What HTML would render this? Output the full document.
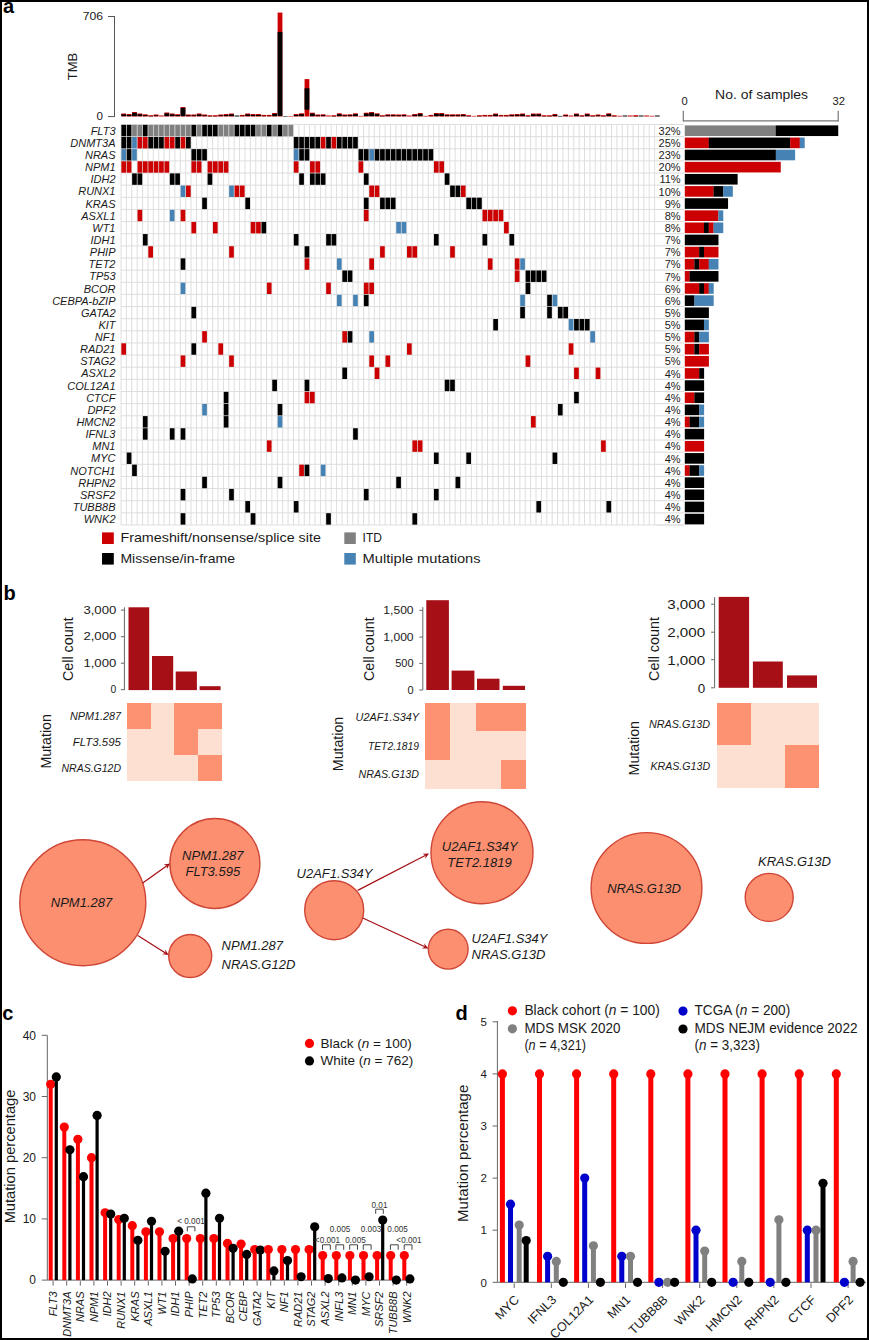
<!DOCTYPE html><html><head><meta charset="utf-8"><style>html,body{margin:0;padding:0;background:#fff;}svg{display:block;}</style></head><body><svg width="869" height="1340" viewBox="0 0 869 1340" font-family='"Liberation Sans", sans-serif'>
<rect x="0" y="0" width="869" height="1340" fill="#ffffff"/>
<text x="3" y="12.9" font-size="20" text-anchor="start" fill="#000" font-weight="bold">a</text>
<line x1="114.5" y1="16.5" x2="114.5" y2="116.6" stroke="#555555" stroke-width="1"/>
<line x1="108" y1="16.5" x2="115" y2="16.5" stroke="#555555" stroke-width="1"/>
<line x1="108" y1="116.6" x2="115" y2="116.6" stroke="#555555" stroke-width="1"/>
<text x="103" y="20.4" font-size="11.6" text-anchor="end" fill="#1a1a1a" textLength="20.3" lengthAdjust="spacingAndGlyphs">706</text>
<text x="103" y="120.2" font-size="11.6" text-anchor="end" fill="#1a1a1a">0</text>
<text transform="translate(77.4,66.5) rotate(-90)" font-size="13" text-anchor="middle" fill="#1a1a1a">TMB</text>
<rect x="121.3" y="113.5" width="4.79" height="3" fill="#cc0000"/>
<rect x="121.3" y="114.4" width="4.79" height="1.7" fill="#000000"/>
<rect x="126.69" y="114" width="4.79" height="2.5" fill="#cc0000"/>
<rect x="126.69" y="114.9" width="4.79" height="1.2" fill="#000000"/>
<rect x="132.08" y="112" width="4.79" height="4.5" fill="#cc0000"/>
<rect x="132.08" y="112.9" width="4.79" height="3.2" fill="#000000"/>
<rect x="137.47" y="113.5" width="4.79" height="3" fill="#cc0000"/>
<rect x="137.47" y="114.4" width="4.79" height="1.7" fill="#000000"/>
<rect x="142.86" y="114.3" width="4.79" height="2.2" fill="#cc0000"/>
<rect x="142.86" y="115.2" width="4.79" height="0.9" fill="#000000"/>
<rect x="148.25" y="115.2" width="4.79" height="1.3" fill="#cc0000"/>
<rect x="148.25" y="116.1" width="4.79" height="0.3" fill="#000000"/>
<rect x="153.64" y="114.5" width="4.79" height="2" fill="#cc0000"/>
<rect x="153.64" y="115.4" width="4.79" height="0.7" fill="#000000"/>
<rect x="159.03" y="115.5" width="4.79" height="1" fill="#cc0000"/>
<rect x="164.42" y="112.5" width="4.79" height="4" fill="#cc0000"/>
<rect x="164.42" y="113.4" width="4.79" height="2.7" fill="#000000"/>
<rect x="169.81" y="113.5" width="4.79" height="3" fill="#cc0000"/>
<rect x="169.81" y="114.4" width="4.79" height="1.7" fill="#000000"/>
<rect x="175.2" y="114.2" width="4.79" height="2.3" fill="#cc0000"/>
<rect x="175.2" y="115.1" width="4.79" height="1" fill="#000000"/>
<rect x="180.59" y="107" width="4.79" height="9.5" fill="#cc0000"/>
<rect x="180.59" y="107.9" width="4.79" height="8.2" fill="#000000"/>
<rect x="185.98" y="114.5" width="4.79" height="2" fill="#cc0000"/>
<rect x="185.98" y="115.4" width="4.79" height="0.7" fill="#000000"/>
<rect x="191.37" y="114.5" width="4.79" height="2" fill="#cc0000"/>
<rect x="191.37" y="115.4" width="4.79" height="0.7" fill="#000000"/>
<rect x="196.76" y="113.5" width="4.79" height="3" fill="#cc0000"/>
<rect x="196.76" y="114.4" width="4.79" height="1.7" fill="#000000"/>
<rect x="202.15" y="114.5" width="4.79" height="2" fill="#cc0000"/>
<rect x="202.15" y="115.4" width="4.79" height="0.7" fill="#000000"/>
<rect x="207.54" y="115.2" width="4.79" height="1.3" fill="#cc0000"/>
<rect x="207.54" y="116.1" width="4.79" height="0.3" fill="#000000"/>
<rect x="212.93" y="115.2" width="4.79" height="1.3" fill="#cc0000"/>
<rect x="212.93" y="116.1" width="4.79" height="0.3" fill="#000000"/>
<rect x="218.32" y="114.5" width="4.79" height="2" fill="#cc0000"/>
<rect x="218.32" y="115.4" width="4.79" height="0.7" fill="#000000"/>
<rect x="223.71" y="114" width="4.79" height="2.5" fill="#cc0000"/>
<rect x="223.71" y="114.9" width="4.79" height="1.2" fill="#000000"/>
<rect x="229.1" y="113.5" width="4.79" height="3" fill="#cc0000"/>
<rect x="229.1" y="114.4" width="4.79" height="1.7" fill="#000000"/>
<rect x="234.49" y="115.5" width="4.79" height="1" fill="#000000"/>
<rect x="239.88" y="114.9" width="4.79" height="1.6" fill="#cc0000"/>
<rect x="239.88" y="115.8" width="4.79" height="0.3" fill="#000000"/>
<rect x="245.27" y="113.5" width="4.79" height="3" fill="#cc0000"/>
<rect x="245.27" y="114.4" width="4.79" height="1.7" fill="#000000"/>
<rect x="250.66" y="114" width="4.79" height="2.5" fill="#cc0000"/>
<rect x="250.66" y="114.9" width="4.79" height="1.2" fill="#000000"/>
<rect x="256.05" y="114" width="4.79" height="2.5" fill="#cc0000"/>
<rect x="256.05" y="114.9" width="4.79" height="1.2" fill="#000000"/>
<rect x="261.44" y="114.9" width="4.79" height="1.6" fill="#cc0000"/>
<rect x="261.44" y="115.8" width="4.79" height="0.3" fill="#000000"/>
<rect x="266.83" y="114.9" width="4.79" height="1.6" fill="#cc0000"/>
<rect x="266.83" y="115.8" width="4.79" height="0.3" fill="#000000"/>
<rect x="272.22" y="113" width="4.79" height="3.5" fill="#cc0000"/>
<rect x="272.22" y="113.9" width="4.79" height="2.2" fill="#000000"/>
<rect x="277.61" y="12.6" width="4.79" height="103.9" fill="#cc0000"/>
<rect x="277.61" y="31.9" width="4.79" height="84.1" fill="#000000"/>
<rect x="283" y="116" width="4.79" height="0.5" fill="#000000"/>
<rect x="288.39" y="116" width="4.79" height="0.5" fill="#cc0000"/>
<rect x="293.78" y="114" width="4.79" height="2.5" fill="#cc0000"/>
<rect x="293.78" y="114.9" width="4.79" height="1.2" fill="#000000"/>
<rect x="299.17" y="113.3" width="4.79" height="3.2" fill="#cc0000"/>
<rect x="299.17" y="114.2" width="4.79" height="1.9" fill="#000000"/>
<rect x="304.56" y="79.1" width="4.79" height="37.4" fill="#cc0000"/>
<rect x="304.56" y="88.3" width="4.79" height="21.4" fill="#000000"/>
<rect x="309.95" y="112.7" width="4.79" height="3.8" fill="#cc0000"/>
<rect x="309.95" y="113.6" width="4.79" height="2.5" fill="#000000"/>
<rect x="315.34" y="114.5" width="4.79" height="2" fill="#cc0000"/>
<rect x="315.34" y="115.4" width="4.79" height="0.7" fill="#000000"/>
<rect x="320.73" y="114.3" width="4.79" height="2.2" fill="#cc0000"/>
<rect x="320.73" y="115.2" width="4.79" height="0.9" fill="#000000"/>
<rect x="326.12" y="115.5" width="4.79" height="1" fill="#cc0000"/>
<rect x="331.51" y="115.2" width="4.79" height="1.3" fill="#cc0000"/>
<rect x="331.51" y="116.1" width="4.79" height="0.3" fill="#000000"/>
<rect x="336.9" y="113.3" width="4.79" height="3.2" fill="#cc0000"/>
<rect x="336.9" y="114.2" width="4.79" height="1.9" fill="#000000"/>
<rect x="342.29" y="114.5" width="4.79" height="2" fill="#cc0000"/>
<rect x="342.29" y="115.4" width="4.79" height="0.7" fill="#000000"/>
<rect x="347.68" y="114.3" width="4.79" height="2.2" fill="#cc0000"/>
<rect x="347.68" y="115.2" width="4.79" height="0.9" fill="#000000"/>
<rect x="353.07" y="113.3" width="4.79" height="3.2" fill="#cc0000"/>
<rect x="353.07" y="114.2" width="4.79" height="1.9" fill="#000000"/>
<rect x="358.46" y="115.9" width="4.79" height="0.6" fill="#cc0000"/>
<rect x="363.85" y="112.7" width="4.79" height="3.8" fill="#cc0000"/>
<rect x="363.85" y="113.6" width="4.79" height="2.5" fill="#000000"/>
<rect x="369.24" y="112" width="4.79" height="4.5" fill="#cc0000"/>
<rect x="369.24" y="112.9" width="4.79" height="3.2" fill="#000000"/>
<rect x="374.63" y="113.3" width="4.79" height="3.2" fill="#cc0000"/>
<rect x="374.63" y="114.2" width="4.79" height="1.9" fill="#000000"/>
<rect x="380.02" y="115.2" width="4.79" height="1.3" fill="#cc0000"/>
<rect x="380.02" y="116.1" width="4.79" height="0.3" fill="#000000"/>
<rect x="385.41" y="114.3" width="4.79" height="2.2" fill="#cc0000"/>
<rect x="385.41" y="115.2" width="4.79" height="0.9" fill="#000000"/>
<rect x="390.8" y="114.3" width="4.79" height="2.2" fill="#cc0000"/>
<rect x="390.8" y="115.2" width="4.79" height="0.9" fill="#000000"/>
<rect x="396.19" y="114.5" width="4.79" height="2" fill="#cc0000"/>
<rect x="396.19" y="115.4" width="4.79" height="0.7" fill="#000000"/>
<rect x="401.58" y="114.3" width="4.79" height="2.2" fill="#cc0000"/>
<rect x="401.58" y="115.2" width="4.79" height="0.9" fill="#000000"/>
<rect x="406.97" y="115.5" width="4.79" height="1" fill="#cc0000"/>
<rect x="412.36" y="114" width="4.79" height="2.5" fill="#cc0000"/>
<rect x="412.36" y="114.9" width="4.79" height="1.2" fill="#000000"/>
<rect x="417.75" y="113" width="4.79" height="3.5" fill="#cc0000"/>
<rect x="417.75" y="113.9" width="4.79" height="2.2" fill="#000000"/>
<rect x="423.14" y="115.9" width="4.79" height="0.6" fill="#cc0000"/>
<rect x="428.53" y="114.9" width="4.79" height="1.6" fill="#cc0000"/>
<rect x="428.53" y="115.8" width="4.79" height="0.3" fill="#000000"/>
<rect x="433.92" y="113" width="4.79" height="3.5" fill="#cc0000"/>
<rect x="433.92" y="113.9" width="4.79" height="2.2" fill="#000000"/>
<rect x="439.31" y="113" width="4.79" height="3.5" fill="#cc0000"/>
<rect x="439.31" y="113.9" width="4.79" height="2.2" fill="#000000"/>
<rect x="444.7" y="114.3" width="4.79" height="2.2" fill="#cc0000"/>
<rect x="444.7" y="115.2" width="4.79" height="0.9" fill="#000000"/>
<rect x="450.09" y="114.3" width="4.79" height="2.2" fill="#cc0000"/>
<rect x="450.09" y="115.2" width="4.79" height="0.9" fill="#000000"/>
<rect x="455.48" y="114.3" width="4.79" height="2.2" fill="#cc0000"/>
<rect x="455.48" y="115.2" width="4.79" height="0.9" fill="#000000"/>
<rect x="460.87" y="114" width="4.79" height="2.5" fill="#cc0000"/>
<rect x="460.87" y="114.9" width="4.79" height="1.2" fill="#000000"/>
<rect x="466.26" y="115.2" width="4.79" height="1.3" fill="#cc0000"/>
<rect x="466.26" y="116.1" width="4.79" height="0.3" fill="#000000"/>
<rect x="471.65" y="115.9" width="4.79" height="0.6" fill="#cc0000"/>
<rect x="477.04" y="115.2" width="4.79" height="1.3" fill="#cc0000"/>
<rect x="477.04" y="116.1" width="4.79" height="0.3" fill="#000000"/>
<rect x="482.43" y="114.9" width="4.79" height="1.6" fill="#cc0000"/>
<rect x="482.43" y="115.8" width="4.79" height="0.3" fill="#000000"/>
<rect x="487.82" y="114.9" width="4.79" height="1.6" fill="#cc0000"/>
<rect x="487.82" y="115.8" width="4.79" height="0.3" fill="#000000"/>
<rect x="493.21" y="113.5" width="4.79" height="3" fill="#cc0000"/>
<rect x="493.21" y="114.4" width="4.79" height="1.7" fill="#000000"/>
<rect x="498.6" y="114.9" width="4.79" height="1.6" fill="#cc0000"/>
<rect x="498.6" y="115.8" width="4.79" height="0.3" fill="#000000"/>
<rect x="503.99" y="114.9" width="4.79" height="1.6" fill="#cc0000"/>
<rect x="503.99" y="115.8" width="4.79" height="0.3" fill="#000000"/>
<rect x="509.38" y="114.3" width="4.79" height="2.2" fill="#cc0000"/>
<rect x="509.38" y="115.2" width="4.79" height="0.9" fill="#000000"/>
<rect x="514.77" y="114" width="4.79" height="2.5" fill="#cc0000"/>
<rect x="514.77" y="114.9" width="4.79" height="1.2" fill="#000000"/>
<rect x="520.16" y="113.5" width="4.79" height="3" fill="#cc0000"/>
<rect x="520.16" y="114.4" width="4.79" height="1.7" fill="#000000"/>
<rect x="525.55" y="115.2" width="4.79" height="1.3" fill="#cc0000"/>
<rect x="525.55" y="116.1" width="4.79" height="0.3" fill="#000000"/>
<rect x="530.94" y="113.5" width="4.79" height="3" fill="#cc0000"/>
<rect x="530.94" y="114.4" width="4.79" height="1.7" fill="#000000"/>
<rect x="536.33" y="113.5" width="4.79" height="3" fill="#cc0000"/>
<rect x="536.33" y="114.4" width="4.79" height="1.7" fill="#000000"/>
<rect x="541.72" y="115.2" width="4.79" height="1.3" fill="#cc0000"/>
<rect x="541.72" y="116.1" width="4.79" height="0.3" fill="#000000"/>
<rect x="547.11" y="115.2" width="4.79" height="1.3" fill="#cc0000"/>
<rect x="547.11" y="116.1" width="4.79" height="0.3" fill="#000000"/>
<rect x="552.5" y="114" width="4.79" height="2.5" fill="#cc0000"/>
<rect x="552.5" y="114.9" width="4.79" height="1.2" fill="#000000"/>
<rect x="557.89" y="115.9" width="4.79" height="0.6" fill="#000000"/>
<rect x="563.28" y="114.5" width="4.79" height="2" fill="#cc0000"/>
<rect x="563.28" y="115.4" width="4.79" height="0.7" fill="#000000"/>
<rect x="568.67" y="115.5" width="4.79" height="1" fill="#cc0000"/>
<rect x="574.06" y="113.5" width="4.79" height="3" fill="#cc0000"/>
<rect x="574.06" y="114.4" width="4.79" height="1.7" fill="#000000"/>
<rect x="579.45" y="115.2" width="4.79" height="1.3" fill="#cc0000"/>
<rect x="579.45" y="116.1" width="4.79" height="0.3" fill="#000000"/>
<rect x="584.84" y="113.5" width="4.79" height="3" fill="#cc0000"/>
<rect x="584.84" y="114.4" width="4.79" height="1.7" fill="#000000"/>
<rect x="590.23" y="115.2" width="4.79" height="1.3" fill="#cc0000"/>
<rect x="590.23" y="116.1" width="4.79" height="0.3" fill="#000000"/>
<rect x="595.62" y="114.5" width="4.79" height="2" fill="#cc0000"/>
<rect x="595.62" y="115.4" width="4.79" height="0.7" fill="#000000"/>
<rect x="601.01" y="115.2" width="4.79" height="1.3" fill="#cc0000"/>
<rect x="601.01" y="116.1" width="4.79" height="0.3" fill="#000000"/>
<rect x="606.4" y="113.3" width="4.79" height="3.2" fill="#cc0000"/>
<rect x="606.4" y="114.2" width="4.79" height="1.9" fill="#000000"/>
<rect x="611.79" y="115.2" width="4.79" height="1.3" fill="#cc0000"/>
<rect x="611.79" y="116.1" width="4.79" height="0.3" fill="#000000"/>
<rect x="617.18" y="115.8" width="4.79" height="0.7" fill="#cc0000"/>
<rect x="622.57" y="115.5" width="4.79" height="1" fill="#000000"/>
<rect x="627.96" y="115.5" width="4.79" height="1" fill="#cc0000"/>
<rect x="633.35" y="115.2" width="4.79" height="1.3" fill="#cc0000"/>
<rect x="633.35" y="116.1" width="4.79" height="0.3" fill="#000000"/>
<rect x="638.74" y="115.5" width="4.79" height="1" fill="#000000"/>
<rect x="644.13" y="115.5" width="4.79" height="1" fill="#cc0000"/>
<rect x="649.52" y="115.8" width="4.79" height="0.7" fill="#cc0000"/>
<rect x="654.91" y="115.5" width="4.79" height="1" fill="#000000"/>
<g fill="none" stroke="#dadada" stroke-width="0.9">
<line x1="121" y1="124.5" x2="121" y2="524.99"/>
<line x1="126.39" y1="124.5" x2="126.39" y2="524.99"/>
<line x1="131.78" y1="124.5" x2="131.78" y2="524.99"/>
<line x1="137.17" y1="124.5" x2="137.17" y2="524.99"/>
<line x1="142.56" y1="124.5" x2="142.56" y2="524.99"/>
<line x1="147.95" y1="124.5" x2="147.95" y2="524.99"/>
<line x1="153.34" y1="124.5" x2="153.34" y2="524.99"/>
<line x1="158.73" y1="124.5" x2="158.73" y2="524.99"/>
<line x1="164.12" y1="124.5" x2="164.12" y2="524.99"/>
<line x1="169.51" y1="124.5" x2="169.51" y2="524.99"/>
<line x1="174.9" y1="124.5" x2="174.9" y2="524.99"/>
<line x1="180.29" y1="124.5" x2="180.29" y2="524.99"/>
<line x1="185.68" y1="124.5" x2="185.68" y2="524.99"/>
<line x1="191.07" y1="124.5" x2="191.07" y2="524.99"/>
<line x1="196.46" y1="124.5" x2="196.46" y2="524.99"/>
<line x1="201.85" y1="124.5" x2="201.85" y2="524.99"/>
<line x1="207.24" y1="124.5" x2="207.24" y2="524.99"/>
<line x1="212.63" y1="124.5" x2="212.63" y2="524.99"/>
<line x1="218.02" y1="124.5" x2="218.02" y2="524.99"/>
<line x1="223.41" y1="124.5" x2="223.41" y2="524.99"/>
<line x1="228.8" y1="124.5" x2="228.8" y2="524.99"/>
<line x1="234.19" y1="124.5" x2="234.19" y2="524.99"/>
<line x1="239.58" y1="124.5" x2="239.58" y2="524.99"/>
<line x1="244.97" y1="124.5" x2="244.97" y2="524.99"/>
<line x1="250.36" y1="124.5" x2="250.36" y2="524.99"/>
<line x1="255.75" y1="124.5" x2="255.75" y2="524.99"/>
<line x1="261.14" y1="124.5" x2="261.14" y2="524.99"/>
<line x1="266.53" y1="124.5" x2="266.53" y2="524.99"/>
<line x1="271.92" y1="124.5" x2="271.92" y2="524.99"/>
<line x1="277.31" y1="124.5" x2="277.31" y2="524.99"/>
<line x1="282.7" y1="124.5" x2="282.7" y2="524.99"/>
<line x1="288.09" y1="124.5" x2="288.09" y2="524.99"/>
<line x1="293.48" y1="124.5" x2="293.48" y2="524.99"/>
<line x1="298.87" y1="124.5" x2="298.87" y2="524.99"/>
<line x1="304.26" y1="124.5" x2="304.26" y2="524.99"/>
<line x1="309.65" y1="124.5" x2="309.65" y2="524.99"/>
<line x1="315.04" y1="124.5" x2="315.04" y2="524.99"/>
<line x1="320.43" y1="124.5" x2="320.43" y2="524.99"/>
<line x1="325.82" y1="124.5" x2="325.82" y2="524.99"/>
<line x1="331.21" y1="124.5" x2="331.21" y2="524.99"/>
<line x1="336.6" y1="124.5" x2="336.6" y2="524.99"/>
<line x1="341.99" y1="124.5" x2="341.99" y2="524.99"/>
<line x1="347.38" y1="124.5" x2="347.38" y2="524.99"/>
<line x1="352.77" y1="124.5" x2="352.77" y2="524.99"/>
<line x1="358.16" y1="124.5" x2="358.16" y2="524.99"/>
<line x1="363.55" y1="124.5" x2="363.55" y2="524.99"/>
<line x1="368.94" y1="124.5" x2="368.94" y2="524.99"/>
<line x1="374.33" y1="124.5" x2="374.33" y2="524.99"/>
<line x1="379.72" y1="124.5" x2="379.72" y2="524.99"/>
<line x1="385.11" y1="124.5" x2="385.11" y2="524.99"/>
<line x1="390.5" y1="124.5" x2="390.5" y2="524.99"/>
<line x1="395.89" y1="124.5" x2="395.89" y2="524.99"/>
<line x1="401.28" y1="124.5" x2="401.28" y2="524.99"/>
<line x1="406.67" y1="124.5" x2="406.67" y2="524.99"/>
<line x1="412.06" y1="124.5" x2="412.06" y2="524.99"/>
<line x1="417.45" y1="124.5" x2="417.45" y2="524.99"/>
<line x1="422.84" y1="124.5" x2="422.84" y2="524.99"/>
<line x1="428.23" y1="124.5" x2="428.23" y2="524.99"/>
<line x1="433.62" y1="124.5" x2="433.62" y2="524.99"/>
<line x1="439.01" y1="124.5" x2="439.01" y2="524.99"/>
<line x1="444.4" y1="124.5" x2="444.4" y2="524.99"/>
<line x1="449.79" y1="124.5" x2="449.79" y2="524.99"/>
<line x1="455.18" y1="124.5" x2="455.18" y2="524.99"/>
<line x1="460.57" y1="124.5" x2="460.57" y2="524.99"/>
<line x1="465.96" y1="124.5" x2="465.96" y2="524.99"/>
<line x1="471.35" y1="124.5" x2="471.35" y2="524.99"/>
<line x1="476.74" y1="124.5" x2="476.74" y2="524.99"/>
<line x1="482.13" y1="124.5" x2="482.13" y2="524.99"/>
<line x1="487.52" y1="124.5" x2="487.52" y2="524.99"/>
<line x1="492.91" y1="124.5" x2="492.91" y2="524.99"/>
<line x1="498.3" y1="124.5" x2="498.3" y2="524.99"/>
<line x1="503.69" y1="124.5" x2="503.69" y2="524.99"/>
<line x1="509.08" y1="124.5" x2="509.08" y2="524.99"/>
<line x1="514.47" y1="124.5" x2="514.47" y2="524.99"/>
<line x1="519.86" y1="124.5" x2="519.86" y2="524.99"/>
<line x1="525.25" y1="124.5" x2="525.25" y2="524.99"/>
<line x1="530.64" y1="124.5" x2="530.64" y2="524.99"/>
<line x1="536.03" y1="124.5" x2="536.03" y2="524.99"/>
<line x1="541.42" y1="124.5" x2="541.42" y2="524.99"/>
<line x1="546.81" y1="124.5" x2="546.81" y2="524.99"/>
<line x1="552.2" y1="124.5" x2="552.2" y2="524.99"/>
<line x1="557.59" y1="124.5" x2="557.59" y2="524.99"/>
<line x1="562.98" y1="124.5" x2="562.98" y2="524.99"/>
<line x1="568.37" y1="124.5" x2="568.37" y2="524.99"/>
<line x1="573.76" y1="124.5" x2="573.76" y2="524.99"/>
<line x1="579.15" y1="124.5" x2="579.15" y2="524.99"/>
<line x1="584.54" y1="124.5" x2="584.54" y2="524.99"/>
<line x1="589.93" y1="124.5" x2="589.93" y2="524.99"/>
<line x1="595.32" y1="124.5" x2="595.32" y2="524.99"/>
<line x1="600.71" y1="124.5" x2="600.71" y2="524.99"/>
<line x1="606.1" y1="124.5" x2="606.1" y2="524.99"/>
<line x1="611.49" y1="124.5" x2="611.49" y2="524.99"/>
<line x1="616.88" y1="124.5" x2="616.88" y2="524.99"/>
<line x1="622.27" y1="124.5" x2="622.27" y2="524.99"/>
<line x1="627.66" y1="124.5" x2="627.66" y2="524.99"/>
<line x1="633.05" y1="124.5" x2="633.05" y2="524.99"/>
<line x1="638.44" y1="124.5" x2="638.44" y2="524.99"/>
<line x1="643.83" y1="124.5" x2="643.83" y2="524.99"/>
<line x1="649.22" y1="124.5" x2="649.22" y2="524.99"/>
<line x1="654.61" y1="124.5" x2="654.61" y2="524.99"/>
<line x1="660" y1="124.5" x2="660" y2="524.99"/>
<line x1="121" y1="124.5" x2="684" y2="124.5"/>
<line x1="121" y1="136.64" x2="684" y2="136.64"/>
<line x1="121" y1="148.77" x2="684" y2="148.77"/>
<line x1="121" y1="160.91" x2="684" y2="160.91"/>
<line x1="121" y1="173.04" x2="684" y2="173.04"/>
<line x1="121" y1="185.18" x2="684" y2="185.18"/>
<line x1="121" y1="197.32" x2="684" y2="197.32"/>
<line x1="121" y1="209.45" x2="684" y2="209.45"/>
<line x1="121" y1="221.59" x2="684" y2="221.59"/>
<line x1="121" y1="233.72" x2="684" y2="233.72"/>
<line x1="121" y1="245.86" x2="684" y2="245.86"/>
<line x1="121" y1="258" x2="684" y2="258"/>
<line x1="121" y1="270.13" x2="684" y2="270.13"/>
<line x1="121" y1="282.27" x2="684" y2="282.27"/>
<line x1="121" y1="294.4" x2="684" y2="294.4"/>
<line x1="121" y1="306.54" x2="684" y2="306.54"/>
<line x1="121" y1="318.68" x2="684" y2="318.68"/>
<line x1="121" y1="330.81" x2="684" y2="330.81"/>
<line x1="121" y1="342.95" x2="684" y2="342.95"/>
<line x1="121" y1="355.08" x2="684" y2="355.08"/>
<line x1="121" y1="367.22" x2="684" y2="367.22"/>
<line x1="121" y1="379.36" x2="684" y2="379.36"/>
<line x1="121" y1="391.49" x2="684" y2="391.49"/>
<line x1="121" y1="403.63" x2="684" y2="403.63"/>
<line x1="121" y1="415.76" x2="684" y2="415.76"/>
<line x1="121" y1="427.9" x2="684" y2="427.9"/>
<line x1="121" y1="440.04" x2="684" y2="440.04"/>
<line x1="121" y1="452.17" x2="684" y2="452.17"/>
<line x1="121" y1="464.31" x2="684" y2="464.31"/>
<line x1="121" y1="476.44" x2="684" y2="476.44"/>
<line x1="121" y1="488.58" x2="684" y2="488.58"/>
<line x1="121" y1="500.72" x2="684" y2="500.72"/>
<line x1="121" y1="512.85" x2="684" y2="512.85"/>
<line x1="121" y1="524.99" x2="684" y2="524.99"/>
</g>
<rect x="121.35" y="124.85" width="4.69" height="11.44" fill="#000000"/>
<rect x="126.74" y="124.85" width="4.69" height="11.44" fill="#000000"/>
<rect x="132.13" y="124.85" width="4.69" height="11.44" fill="#808080"/>
<rect x="137.52" y="124.85" width="4.69" height="11.44" fill="#808080"/>
<rect x="142.91" y="124.85" width="4.69" height="11.44" fill="#000000"/>
<rect x="148.3" y="124.85" width="4.69" height="11.44" fill="#808080"/>
<rect x="153.69" y="124.85" width="4.69" height="11.44" fill="#808080"/>
<rect x="159.08" y="124.85" width="4.69" height="11.44" fill="#808080"/>
<rect x="164.47" y="124.85" width="4.69" height="11.44" fill="#808080"/>
<rect x="169.86" y="124.85" width="4.69" height="11.44" fill="#808080"/>
<rect x="175.25" y="124.85" width="4.69" height="11.44" fill="#808080"/>
<rect x="180.64" y="124.85" width="4.69" height="11.44" fill="#808080"/>
<rect x="186.03" y="124.85" width="4.69" height="11.44" fill="#808080"/>
<rect x="191.42" y="124.85" width="4.69" height="11.44" fill="#000000"/>
<rect x="196.81" y="124.85" width="4.69" height="11.44" fill="#808080"/>
<rect x="202.2" y="124.85" width="4.69" height="11.44" fill="#000000"/>
<rect x="207.59" y="124.85" width="4.69" height="11.44" fill="#000000"/>
<rect x="212.98" y="124.85" width="4.69" height="11.44" fill="#000000"/>
<rect x="218.37" y="124.85" width="4.69" height="11.44" fill="#808080"/>
<rect x="223.76" y="124.85" width="4.69" height="11.44" fill="#808080"/>
<rect x="229.15" y="124.85" width="4.69" height="11.44" fill="#808080"/>
<rect x="234.54" y="124.85" width="4.69" height="11.44" fill="#000000"/>
<rect x="239.93" y="124.85" width="4.69" height="11.44" fill="#000000"/>
<rect x="245.32" y="124.85" width="4.69" height="11.44" fill="#000000"/>
<rect x="250.71" y="124.85" width="4.69" height="11.44" fill="#000000"/>
<rect x="256.1" y="124.85" width="4.69" height="11.44" fill="#808080"/>
<rect x="261.49" y="124.85" width="4.69" height="11.44" fill="#808080"/>
<rect x="266.88" y="124.85" width="4.69" height="11.44" fill="#000000"/>
<rect x="272.27" y="124.85" width="4.69" height="11.44" fill="#808080"/>
<rect x="277.66" y="124.85" width="4.69" height="11.44" fill="#000000"/>
<rect x="283.05" y="124.85" width="4.69" height="11.44" fill="#808080"/>
<rect x="288.44" y="124.85" width="4.69" height="11.44" fill="#808080"/>
<rect x="121.35" y="136.99" width="4.69" height="11.44" fill="#000000"/>
<rect x="126.74" y="136.99" width="4.69" height="11.44" fill="#000000"/>
<rect x="132.13" y="136.99" width="4.69" height="11.44" fill="#4682b4"/>
<rect x="137.52" y="136.99" width="4.69" height="11.44" fill="#cc0000"/>
<rect x="142.91" y="136.99" width="4.69" height="11.44" fill="#cc0000"/>
<rect x="148.3" y="136.99" width="4.69" height="11.44" fill="#000000"/>
<rect x="153.69" y="136.99" width="4.69" height="11.44" fill="#000000"/>
<rect x="159.08" y="136.99" width="4.69" height="11.44" fill="#000000"/>
<rect x="164.47" y="136.99" width="4.69" height="11.44" fill="#cc0000"/>
<rect x="169.86" y="136.99" width="4.69" height="11.44" fill="#cc0000"/>
<rect x="175.25" y="136.99" width="4.69" height="11.44" fill="#000000"/>
<rect x="180.64" y="136.99" width="4.69" height="11.44" fill="#cc0000"/>
<rect x="186.03" y="136.99" width="4.69" height="11.44" fill="#000000"/>
<rect x="293.83" y="136.99" width="4.69" height="11.44" fill="#000000"/>
<rect x="299.22" y="136.99" width="4.69" height="11.44" fill="#000000"/>
<rect x="304.61" y="136.99" width="4.69" height="11.44" fill="#000000"/>
<rect x="310" y="136.99" width="4.69" height="11.44" fill="#000000"/>
<rect x="315.39" y="136.99" width="4.69" height="11.44" fill="#000000"/>
<rect x="320.78" y="136.99" width="4.69" height="11.44" fill="#cc0000"/>
<rect x="326.17" y="136.99" width="4.69" height="11.44" fill="#000000"/>
<rect x="331.56" y="136.99" width="4.69" height="11.44" fill="#cc0000"/>
<rect x="336.95" y="136.99" width="4.69" height="11.44" fill="#000000"/>
<rect x="342.34" y="136.99" width="4.69" height="11.44" fill="#000000"/>
<rect x="347.73" y="136.99" width="4.69" height="11.44" fill="#000000"/>
<rect x="353.12" y="136.99" width="4.69" height="11.44" fill="#000000"/>
<rect x="121.35" y="149.12" width="4.69" height="11.44" fill="#4682b4"/>
<rect x="126.74" y="149.12" width="4.69" height="11.44" fill="#000000"/>
<rect x="132.13" y="149.12" width="4.69" height="11.44" fill="#4682b4"/>
<rect x="191.42" y="149.12" width="4.69" height="11.44" fill="#000000"/>
<rect x="196.81" y="149.12" width="4.69" height="11.44" fill="#000000"/>
<rect x="202.2" y="149.12" width="4.69" height="11.44" fill="#000000"/>
<rect x="293.83" y="149.12" width="4.69" height="11.44" fill="#4682b4"/>
<rect x="299.22" y="149.12" width="4.69" height="11.44" fill="#000000"/>
<rect x="304.61" y="149.12" width="4.69" height="11.44" fill="#000000"/>
<rect x="358.51" y="149.12" width="4.69" height="11.44" fill="#000000"/>
<rect x="363.9" y="149.12" width="4.69" height="11.44" fill="#000000"/>
<rect x="369.29" y="149.12" width="4.69" height="11.44" fill="#4682b4"/>
<rect x="374.68" y="149.12" width="4.69" height="11.44" fill="#000000"/>
<rect x="380.07" y="149.12" width="4.69" height="11.44" fill="#000000"/>
<rect x="385.46" y="149.12" width="4.69" height="11.44" fill="#000000"/>
<rect x="390.85" y="149.12" width="4.69" height="11.44" fill="#000000"/>
<rect x="396.24" y="149.12" width="4.69" height="11.44" fill="#000000"/>
<rect x="401.63" y="149.12" width="4.69" height="11.44" fill="#000000"/>
<rect x="407.02" y="149.12" width="4.69" height="11.44" fill="#000000"/>
<rect x="412.41" y="149.12" width="4.69" height="11.44" fill="#000000"/>
<rect x="417.8" y="149.12" width="4.69" height="11.44" fill="#000000"/>
<rect x="423.19" y="149.12" width="4.69" height="11.44" fill="#000000"/>
<rect x="428.58" y="149.12" width="4.69" height="11.44" fill="#000000"/>
<rect x="121.35" y="161.26" width="4.69" height="11.44" fill="#cc0000"/>
<rect x="126.74" y="161.26" width="4.69" height="11.44" fill="#cc0000"/>
<rect x="137.52" y="161.26" width="4.69" height="11.44" fill="#cc0000"/>
<rect x="142.91" y="161.26" width="4.69" height="11.44" fill="#cc0000"/>
<rect x="148.3" y="161.26" width="4.69" height="11.44" fill="#cc0000"/>
<rect x="153.69" y="161.26" width="4.69" height="11.44" fill="#cc0000"/>
<rect x="159.08" y="161.26" width="4.69" height="11.44" fill="#cc0000"/>
<rect x="164.47" y="161.26" width="4.69" height="11.44" fill="#cc0000"/>
<rect x="191.42" y="161.26" width="4.69" height="11.44" fill="#cc0000"/>
<rect x="196.81" y="161.26" width="4.69" height="11.44" fill="#cc0000"/>
<rect x="207.59" y="161.26" width="4.69" height="11.44" fill="#cc0000"/>
<rect x="212.98" y="161.26" width="4.69" height="11.44" fill="#cc0000"/>
<rect x="218.37" y="161.26" width="4.69" height="11.44" fill="#cc0000"/>
<rect x="223.76" y="161.26" width="4.69" height="11.44" fill="#cc0000"/>
<rect x="293.83" y="161.26" width="4.69" height="11.44" fill="#cc0000"/>
<rect x="310" y="161.26" width="4.69" height="11.44" fill="#cc0000"/>
<rect x="315.39" y="161.26" width="4.69" height="11.44" fill="#cc0000"/>
<rect x="358.51" y="161.26" width="4.69" height="11.44" fill="#cc0000"/>
<rect x="433.97" y="161.26" width="4.69" height="11.44" fill="#cc0000"/>
<rect x="439.36" y="161.26" width="4.69" height="11.44" fill="#cc0000"/>
<rect x="132.13" y="173.39" width="4.69" height="11.44" fill="#000000"/>
<rect x="137.52" y="173.39" width="4.69" height="11.44" fill="#000000"/>
<rect x="169.86" y="173.39" width="4.69" height="11.44" fill="#000000"/>
<rect x="175.25" y="173.39" width="4.69" height="11.44" fill="#000000"/>
<rect x="207.59" y="173.39" width="4.69" height="11.44" fill="#000000"/>
<rect x="299.22" y="173.39" width="4.69" height="11.44" fill="#000000"/>
<rect x="310" y="173.39" width="4.69" height="11.44" fill="#000000"/>
<rect x="315.39" y="173.39" width="4.69" height="11.44" fill="#000000"/>
<rect x="320.78" y="173.39" width="4.69" height="11.44" fill="#000000"/>
<rect x="363.9" y="173.39" width="4.69" height="11.44" fill="#000000"/>
<rect x="444.75" y="173.39" width="4.69" height="11.44" fill="#000000"/>
<rect x="180.64" y="185.53" width="4.69" height="11.44" fill="#4682b4"/>
<rect x="186.03" y="185.53" width="4.69" height="11.44" fill="#cc0000"/>
<rect x="229.15" y="185.53" width="4.69" height="11.44" fill="#4682b4"/>
<rect x="234.54" y="185.53" width="4.69" height="11.44" fill="#cc0000"/>
<rect x="239.93" y="185.53" width="4.69" height="11.44" fill="#cc0000"/>
<rect x="369.29" y="185.53" width="4.69" height="11.44" fill="#cc0000"/>
<rect x="374.68" y="185.53" width="4.69" height="11.44" fill="#cc0000"/>
<rect x="450.14" y="185.53" width="4.69" height="11.44" fill="#000000"/>
<rect x="455.53" y="185.53" width="4.69" height="11.44" fill="#000000"/>
<rect x="460.92" y="185.53" width="4.69" height="11.44" fill="#cc0000"/>
<rect x="202.2" y="197.67" width="4.69" height="11.44" fill="#000000"/>
<rect x="245.32" y="197.67" width="4.69" height="11.44" fill="#000000"/>
<rect x="363.9" y="197.67" width="4.69" height="11.44" fill="#000000"/>
<rect x="380.07" y="197.67" width="4.69" height="11.44" fill="#000000"/>
<rect x="385.46" y="197.67" width="4.69" height="11.44" fill="#000000"/>
<rect x="390.85" y="197.67" width="4.69" height="11.44" fill="#000000"/>
<rect x="466.31" y="197.67" width="4.69" height="11.44" fill="#000000"/>
<rect x="471.7" y="197.67" width="4.69" height="11.44" fill="#000000"/>
<rect x="477.09" y="197.67" width="4.69" height="11.44" fill="#000000"/>
<rect x="137.52" y="209.8" width="4.69" height="11.44" fill="#cc0000"/>
<rect x="169.86" y="209.8" width="4.69" height="11.44" fill="#4682b4"/>
<rect x="180.64" y="209.8" width="4.69" height="11.44" fill="#cc0000"/>
<rect x="363.9" y="209.8" width="4.69" height="11.44" fill="#cc0000"/>
<rect x="482.48" y="209.8" width="4.69" height="11.44" fill="#cc0000"/>
<rect x="487.87" y="209.8" width="4.69" height="11.44" fill="#cc0000"/>
<rect x="493.26" y="209.8" width="4.69" height="11.44" fill="#cc0000"/>
<rect x="498.65" y="209.8" width="4.69" height="11.44" fill="#cc0000"/>
<rect x="191.42" y="221.94" width="4.69" height="11.44" fill="#cc0000"/>
<rect x="212.98" y="221.94" width="4.69" height="11.44" fill="#cc0000"/>
<rect x="250.71" y="221.94" width="4.69" height="11.44" fill="#cc0000"/>
<rect x="256.1" y="221.94" width="4.69" height="11.44" fill="#cc0000"/>
<rect x="261.49" y="221.94" width="4.69" height="11.44" fill="#000000"/>
<rect x="396.24" y="221.94" width="4.69" height="11.44" fill="#4682b4"/>
<rect x="401.63" y="221.94" width="4.69" height="11.44" fill="#4682b4"/>
<rect x="504.04" y="221.94" width="4.69" height="11.44" fill="#cc0000"/>
<rect x="142.91" y="234.07" width="4.69" height="11.44" fill="#000000"/>
<rect x="293.83" y="234.07" width="4.69" height="11.44" fill="#000000"/>
<rect x="326.17" y="234.07" width="4.69" height="11.44" fill="#000000"/>
<rect x="331.56" y="234.07" width="4.69" height="11.44" fill="#000000"/>
<rect x="433.97" y="234.07" width="4.69" height="11.44" fill="#000000"/>
<rect x="482.48" y="234.07" width="4.69" height="11.44" fill="#000000"/>
<rect x="509.43" y="234.07" width="4.69" height="11.44" fill="#000000"/>
<rect x="148.3" y="246.21" width="4.69" height="11.44" fill="#cc0000"/>
<rect x="229.15" y="246.21" width="4.69" height="11.44" fill="#cc0000"/>
<rect x="304.61" y="246.21" width="4.69" height="11.44" fill="#000000"/>
<rect x="380.07" y="246.21" width="4.69" height="11.44" fill="#cc0000"/>
<rect x="407.02" y="246.21" width="4.69" height="11.44" fill="#cc0000"/>
<rect x="412.41" y="246.21" width="4.69" height="11.44" fill="#cc0000"/>
<rect x="450.14" y="246.21" width="4.69" height="11.44" fill="#cc0000"/>
<rect x="180.64" y="258.35" width="4.69" height="11.44" fill="#000000"/>
<rect x="304.61" y="258.35" width="4.69" height="11.44" fill="#cc0000"/>
<rect x="336.95" y="258.35" width="4.69" height="11.44" fill="#4682b4"/>
<rect x="369.29" y="258.35" width="4.69" height="11.44" fill="#cc0000"/>
<rect x="487.87" y="258.35" width="4.69" height="11.44" fill="#cc0000"/>
<rect x="514.82" y="258.35" width="4.69" height="11.44" fill="#cc0000"/>
<rect x="520.21" y="258.35" width="4.69" height="11.44" fill="#4682b4"/>
<rect x="342.34" y="270.48" width="4.69" height="11.44" fill="#000000"/>
<rect x="347.73" y="270.48" width="4.69" height="11.44" fill="#000000"/>
<rect x="514.82" y="270.48" width="4.69" height="11.44" fill="#cc0000"/>
<rect x="525.6" y="270.48" width="4.69" height="11.44" fill="#000000"/>
<rect x="530.99" y="270.48" width="4.69" height="11.44" fill="#000000"/>
<rect x="536.38" y="270.48" width="4.69" height="11.44" fill="#000000"/>
<rect x="541.77" y="270.48" width="4.69" height="11.44" fill="#000000"/>
<rect x="180.64" y="282.62" width="4.69" height="11.44" fill="#4682b4"/>
<rect x="266.88" y="282.62" width="4.69" height="11.44" fill="#cc0000"/>
<rect x="326.17" y="282.62" width="4.69" height="11.44" fill="#cc0000"/>
<rect x="363.9" y="282.62" width="4.69" height="11.44" fill="#cc0000"/>
<rect x="369.29" y="282.62" width="4.69" height="11.44" fill="#cc0000"/>
<rect x="525.6" y="282.62" width="4.69" height="11.44" fill="#000000"/>
<rect x="336.95" y="294.75" width="4.69" height="11.44" fill="#4682b4"/>
<rect x="353.12" y="294.75" width="4.69" height="11.44" fill="#4682b4"/>
<rect x="363.9" y="294.75" width="4.69" height="11.44" fill="#000000"/>
<rect x="520.21" y="294.75" width="4.69" height="11.44" fill="#4682b4"/>
<rect x="547.16" y="294.75" width="4.69" height="11.44" fill="#000000"/>
<rect x="552.55" y="294.75" width="4.69" height="11.44" fill="#4682b4"/>
<rect x="191.42" y="306.89" width="4.69" height="11.44" fill="#000000"/>
<rect x="520.21" y="306.89" width="4.69" height="11.44" fill="#000000"/>
<rect x="547.16" y="306.89" width="4.69" height="11.44" fill="#000000"/>
<rect x="557.94" y="306.89" width="4.69" height="11.44" fill="#000000"/>
<rect x="563.33" y="306.89" width="4.69" height="11.44" fill="#000000"/>
<rect x="493.26" y="319.03" width="4.69" height="11.44" fill="#000000"/>
<rect x="568.72" y="319.03" width="4.69" height="11.44" fill="#4682b4"/>
<rect x="574.11" y="319.03" width="4.69" height="11.44" fill="#000000"/>
<rect x="579.5" y="319.03" width="4.69" height="11.44" fill="#000000"/>
<rect x="584.89" y="319.03" width="4.69" height="11.44" fill="#000000"/>
<rect x="202.2" y="331.16" width="4.69" height="11.44" fill="#cc0000"/>
<rect x="342.34" y="331.16" width="4.69" height="11.44" fill="#cc0000"/>
<rect x="347.73" y="331.16" width="4.69" height="11.44" fill="#000000"/>
<rect x="369.29" y="331.16" width="4.69" height="11.44" fill="#4682b4"/>
<rect x="590.28" y="331.16" width="4.69" height="11.44" fill="#4682b4"/>
<rect x="121.35" y="343.3" width="4.69" height="11.44" fill="#cc0000"/>
<rect x="191.42" y="343.3" width="4.69" height="11.44" fill="#000000"/>
<rect x="218.37" y="343.3" width="4.69" height="11.44" fill="#cc0000"/>
<rect x="407.02" y="343.3" width="4.69" height="11.44" fill="#cc0000"/>
<rect x="568.72" y="343.3" width="4.69" height="11.44" fill="#cc0000"/>
<rect x="180.64" y="355.43" width="4.69" height="11.44" fill="#cc0000"/>
<rect x="229.15" y="355.43" width="4.69" height="11.44" fill="#cc0000"/>
<rect x="369.29" y="355.43" width="4.69" height="11.44" fill="#cc0000"/>
<rect x="385.46" y="355.43" width="4.69" height="11.44" fill="#cc0000"/>
<rect x="525.6" y="355.43" width="4.69" height="11.44" fill="#cc0000"/>
<rect x="342.34" y="367.57" width="4.69" height="11.44" fill="#000000"/>
<rect x="374.68" y="367.57" width="4.69" height="11.44" fill="#cc0000"/>
<rect x="574.11" y="367.57" width="4.69" height="11.44" fill="#cc0000"/>
<rect x="595.67" y="367.57" width="4.69" height="11.44" fill="#cc0000"/>
<rect x="272.27" y="379.71" width="4.69" height="11.44" fill="#000000"/>
<rect x="304.61" y="379.71" width="4.69" height="11.44" fill="#000000"/>
<rect x="444.75" y="379.71" width="4.69" height="11.44" fill="#000000"/>
<rect x="450.14" y="379.71" width="4.69" height="11.44" fill="#000000"/>
<rect x="223.76" y="391.84" width="4.69" height="11.44" fill="#000000"/>
<rect x="304.61" y="391.84" width="4.69" height="11.44" fill="#cc0000"/>
<rect x="310" y="391.84" width="4.69" height="11.44" fill="#cc0000"/>
<rect x="574.11" y="391.84" width="4.69" height="11.44" fill="#000000"/>
<rect x="202.2" y="403.98" width="4.69" height="11.44" fill="#4682b4"/>
<rect x="223.76" y="403.98" width="4.69" height="11.44" fill="#000000"/>
<rect x="277.66" y="403.98" width="4.69" height="11.44" fill="#000000"/>
<rect x="557.94" y="403.98" width="4.69" height="11.44" fill="#000000"/>
<rect x="142.91" y="416.11" width="4.69" height="11.44" fill="#000000"/>
<rect x="223.76" y="416.11" width="4.69" height="11.44" fill="#000000"/>
<rect x="277.66" y="416.11" width="4.69" height="11.44" fill="#4682b4"/>
<rect x="530.99" y="416.11" width="4.69" height="11.44" fill="#cc0000"/>
<rect x="142.91" y="428.25" width="4.69" height="11.44" fill="#000000"/>
<rect x="169.86" y="428.25" width="4.69" height="11.44" fill="#000000"/>
<rect x="180.64" y="428.25" width="4.69" height="11.44" fill="#000000"/>
<rect x="353.12" y="428.25" width="4.69" height="11.44" fill="#000000"/>
<rect x="266.88" y="440.39" width="4.69" height="11.44" fill="#cc0000"/>
<rect x="412.41" y="440.39" width="4.69" height="11.44" fill="#cc0000"/>
<rect x="417.8" y="440.39" width="4.69" height="11.44" fill="#cc0000"/>
<rect x="601.06" y="440.39" width="4.69" height="11.44" fill="#cc0000"/>
<rect x="126.74" y="452.52" width="4.69" height="11.44" fill="#000000"/>
<rect x="433.97" y="452.52" width="4.69" height="11.44" fill="#000000"/>
<rect x="466.31" y="452.52" width="4.69" height="11.44" fill="#000000"/>
<rect x="552.55" y="452.52" width="4.69" height="11.44" fill="#000000"/>
<rect x="132.13" y="464.66" width="4.69" height="11.44" fill="#000000"/>
<rect x="299.22" y="464.66" width="4.69" height="11.44" fill="#cc0000"/>
<rect x="304.61" y="464.66" width="4.69" height="11.44" fill="#000000"/>
<rect x="320.78" y="464.66" width="4.69" height="11.44" fill="#4682b4"/>
<rect x="202.2" y="476.79" width="4.69" height="11.44" fill="#000000"/>
<rect x="277.66" y="476.79" width="4.69" height="11.44" fill="#000000"/>
<rect x="396.24" y="476.79" width="4.69" height="11.44" fill="#000000"/>
<rect x="455.53" y="476.79" width="4.69" height="11.44" fill="#000000"/>
<rect x="180.64" y="488.93" width="4.69" height="11.44" fill="#000000"/>
<rect x="229.15" y="488.93" width="4.69" height="11.44" fill="#000000"/>
<rect x="363.9" y="488.93" width="4.69" height="11.44" fill="#000000"/>
<rect x="433.97" y="488.93" width="4.69" height="11.44" fill="#000000"/>
<rect x="245.32" y="501.07" width="4.69" height="11.44" fill="#000000"/>
<rect x="293.83" y="501.07" width="4.69" height="11.44" fill="#000000"/>
<rect x="536.38" y="501.07" width="4.69" height="11.44" fill="#000000"/>
<rect x="606.45" y="501.07" width="4.69" height="11.44" fill="#000000"/>
<rect x="180.64" y="513.2" width="4.69" height="11.44" fill="#000000"/>
<rect x="250.71" y="513.2" width="4.69" height="11.44" fill="#000000"/>
<rect x="326.17" y="513.2" width="4.69" height="11.44" fill="#000000"/>
<rect x="412.41" y="513.2" width="4.69" height="11.44" fill="#000000"/>
<rect x="657" y="125.1" width="27" height="399.29" fill="#ffffff"/>
<line x1="657" y1="124.5" x2="684" y2="124.5" stroke="#dadada" stroke-width="1"/>
<line x1="657" y1="136.64" x2="684" y2="136.64" stroke="#dadada" stroke-width="1"/>
<line x1="657" y1="148.77" x2="684" y2="148.77" stroke="#dadada" stroke-width="1"/>
<line x1="657" y1="160.91" x2="684" y2="160.91" stroke="#dadada" stroke-width="1"/>
<line x1="657" y1="173.04" x2="684" y2="173.04" stroke="#dadada" stroke-width="1"/>
<line x1="657" y1="185.18" x2="684" y2="185.18" stroke="#dadada" stroke-width="1"/>
<line x1="657" y1="197.32" x2="684" y2="197.32" stroke="#dadada" stroke-width="1"/>
<line x1="657" y1="209.45" x2="684" y2="209.45" stroke="#dadada" stroke-width="1"/>
<line x1="657" y1="221.59" x2="684" y2="221.59" stroke="#dadada" stroke-width="1"/>
<line x1="657" y1="233.72" x2="684" y2="233.72" stroke="#dadada" stroke-width="1"/>
<line x1="657" y1="245.86" x2="684" y2="245.86" stroke="#dadada" stroke-width="1"/>
<line x1="657" y1="258" x2="684" y2="258" stroke="#dadada" stroke-width="1"/>
<line x1="657" y1="270.13" x2="684" y2="270.13" stroke="#dadada" stroke-width="1"/>
<line x1="657" y1="282.27" x2="684" y2="282.27" stroke="#dadada" stroke-width="1"/>
<line x1="657" y1="294.4" x2="684" y2="294.4" stroke="#dadada" stroke-width="1"/>
<line x1="657" y1="306.54" x2="684" y2="306.54" stroke="#dadada" stroke-width="1"/>
<line x1="657" y1="318.68" x2="684" y2="318.68" stroke="#dadada" stroke-width="1"/>
<line x1="657" y1="330.81" x2="684" y2="330.81" stroke="#dadada" stroke-width="1"/>
<line x1="657" y1="342.95" x2="684" y2="342.95" stroke="#dadada" stroke-width="1"/>
<line x1="657" y1="355.08" x2="684" y2="355.08" stroke="#dadada" stroke-width="1"/>
<line x1="657" y1="367.22" x2="684" y2="367.22" stroke="#dadada" stroke-width="1"/>
<line x1="657" y1="379.36" x2="684" y2="379.36" stroke="#dadada" stroke-width="1"/>
<line x1="657" y1="391.49" x2="684" y2="391.49" stroke="#dadada" stroke-width="1"/>
<line x1="657" y1="403.63" x2="684" y2="403.63" stroke="#dadada" stroke-width="1"/>
<line x1="657" y1="415.76" x2="684" y2="415.76" stroke="#dadada" stroke-width="1"/>
<line x1="657" y1="427.9" x2="684" y2="427.9" stroke="#dadada" stroke-width="1"/>
<line x1="657" y1="440.04" x2="684" y2="440.04" stroke="#dadada" stroke-width="1"/>
<line x1="657" y1="452.17" x2="684" y2="452.17" stroke="#dadada" stroke-width="1"/>
<line x1="657" y1="464.31" x2="684" y2="464.31" stroke="#dadada" stroke-width="1"/>
<line x1="657" y1="476.44" x2="684" y2="476.44" stroke="#dadada" stroke-width="1"/>
<line x1="657" y1="488.58" x2="684" y2="488.58" stroke="#dadada" stroke-width="1"/>
<line x1="657" y1="500.72" x2="684" y2="500.72" stroke="#dadada" stroke-width="1"/>
<line x1="657" y1="512.85" x2="684" y2="512.85" stroke="#dadada" stroke-width="1"/>
<line x1="657" y1="524.99" x2="684" y2="524.99" stroke="#dadada" stroke-width="1"/>
<text x="115.5" y="134.77" font-size="11" text-anchor="end" fill="#1a1a1a" font-style="italic">FLT3</text>
<text x="680.6" y="134.87" font-size="11" text-anchor="end" fill="#1a1a1a">32%</text>
<text x="115.5" y="146.9" font-size="11" text-anchor="end" fill="#1a1a1a" font-style="italic">DNMT3A</text>
<text x="680.6" y="147" font-size="11" text-anchor="end" fill="#1a1a1a">25%</text>
<text x="115.5" y="159.04" font-size="11" text-anchor="end" fill="#1a1a1a" font-style="italic">NRAS</text>
<text x="680.6" y="159.14" font-size="11" text-anchor="end" fill="#1a1a1a">23%</text>
<text x="115.5" y="171.18" font-size="11" text-anchor="end" fill="#1a1a1a" font-style="italic">NPM1</text>
<text x="680.6" y="171.28" font-size="11" text-anchor="end" fill="#1a1a1a">20%</text>
<text x="115.5" y="183.31" font-size="11" text-anchor="end" fill="#1a1a1a" font-style="italic">IDH2</text>
<text x="680.6" y="183.41" font-size="11" text-anchor="end" fill="#1a1a1a">11%</text>
<text x="115.5" y="195.45" font-size="11" text-anchor="end" fill="#1a1a1a" font-style="italic">RUNX1</text>
<text x="680.6" y="195.55" font-size="11" text-anchor="end" fill="#1a1a1a">10%</text>
<text x="115.5" y="207.58" font-size="11" text-anchor="end" fill="#1a1a1a" font-style="italic">KRAS</text>
<text x="680.6" y="207.68" font-size="11" text-anchor="end" fill="#1a1a1a">9%</text>
<text x="115.5" y="219.72" font-size="11" text-anchor="end" fill="#1a1a1a" font-style="italic">ASXL1</text>
<text x="680.6" y="219.82" font-size="11" text-anchor="end" fill="#1a1a1a">8%</text>
<text x="115.5" y="231.86" font-size="11" text-anchor="end" fill="#1a1a1a" font-style="italic">WT1</text>
<text x="680.6" y="231.96" font-size="11" text-anchor="end" fill="#1a1a1a">8%</text>
<text x="115.5" y="243.99" font-size="11" text-anchor="end" fill="#1a1a1a" font-style="italic">IDH1</text>
<text x="680.6" y="244.09" font-size="11" text-anchor="end" fill="#1a1a1a">7%</text>
<text x="115.5" y="256.13" font-size="11" text-anchor="end" fill="#1a1a1a" font-style="italic">PHIP</text>
<text x="680.6" y="256.23" font-size="11" text-anchor="end" fill="#1a1a1a">7%</text>
<text x="115.5" y="268.26" font-size="11" text-anchor="end" fill="#1a1a1a" font-style="italic">TET2</text>
<text x="680.6" y="268.36" font-size="11" text-anchor="end" fill="#1a1a1a">7%</text>
<text x="115.5" y="280.4" font-size="11" text-anchor="end" fill="#1a1a1a" font-style="italic">TP53</text>
<text x="680.6" y="280.5" font-size="11" text-anchor="end" fill="#1a1a1a">7%</text>
<text x="115.5" y="292.54" font-size="11" text-anchor="end" fill="#1a1a1a" font-style="italic">BCOR</text>
<text x="680.6" y="292.64" font-size="11" text-anchor="end" fill="#1a1a1a">6%</text>
<text x="115.5" y="304.67" font-size="11" text-anchor="end" fill="#1a1a1a" font-style="italic">CEBPA-bZIP</text>
<text x="680.6" y="304.77" font-size="11" text-anchor="end" fill="#1a1a1a">6%</text>
<text x="115.5" y="316.81" font-size="11" text-anchor="end" fill="#1a1a1a" font-style="italic">GATA2</text>
<text x="680.6" y="316.91" font-size="11" text-anchor="end" fill="#1a1a1a">5%</text>
<text x="115.5" y="328.94" font-size="11" text-anchor="end" fill="#1a1a1a" font-style="italic">KIT</text>
<text x="680.6" y="329.04" font-size="11" text-anchor="end" fill="#1a1a1a">5%</text>
<text x="115.5" y="341.08" font-size="11" text-anchor="end" fill="#1a1a1a" font-style="italic">NF1</text>
<text x="680.6" y="341.18" font-size="11" text-anchor="end" fill="#1a1a1a">5%</text>
<text x="115.5" y="353.22" font-size="11" text-anchor="end" fill="#1a1a1a" font-style="italic">RAD21</text>
<text x="680.6" y="353.32" font-size="11" text-anchor="end" fill="#1a1a1a">5%</text>
<text x="115.5" y="365.35" font-size="11" text-anchor="end" fill="#1a1a1a" font-style="italic">STAG2</text>
<text x="680.6" y="365.45" font-size="11" text-anchor="end" fill="#1a1a1a">5%</text>
<text x="115.5" y="377.49" font-size="11" text-anchor="end" fill="#1a1a1a" font-style="italic">ASXL2</text>
<text x="680.6" y="377.59" font-size="11" text-anchor="end" fill="#1a1a1a">4%</text>
<text x="115.5" y="389.62" font-size="11" text-anchor="end" fill="#1a1a1a" font-style="italic">COL12A1</text>
<text x="680.6" y="389.72" font-size="11" text-anchor="end" fill="#1a1a1a">4%</text>
<text x="115.5" y="401.76" font-size="11" text-anchor="end" fill="#1a1a1a" font-style="italic">CTCF</text>
<text x="680.6" y="401.86" font-size="11" text-anchor="end" fill="#1a1a1a">4%</text>
<text x="115.5" y="413.9" font-size="11" text-anchor="end" fill="#1a1a1a" font-style="italic">DPF2</text>
<text x="680.6" y="414" font-size="11" text-anchor="end" fill="#1a1a1a">4%</text>
<text x="115.5" y="426.03" font-size="11" text-anchor="end" fill="#1a1a1a" font-style="italic">HMCN2</text>
<text x="680.6" y="426.13" font-size="11" text-anchor="end" fill="#1a1a1a">4%</text>
<text x="115.5" y="438.17" font-size="11" text-anchor="end" fill="#1a1a1a" font-style="italic">IFNL3</text>
<text x="680.6" y="438.27" font-size="11" text-anchor="end" fill="#1a1a1a">4%</text>
<text x="115.5" y="450.3" font-size="11" text-anchor="end" fill="#1a1a1a" font-style="italic">MN1</text>
<text x="680.6" y="450.4" font-size="11" text-anchor="end" fill="#1a1a1a">4%</text>
<text x="115.5" y="462.44" font-size="11" text-anchor="end" fill="#1a1a1a" font-style="italic">MYC</text>
<text x="680.6" y="462.54" font-size="11" text-anchor="end" fill="#1a1a1a">4%</text>
<text x="115.5" y="474.58" font-size="11" text-anchor="end" fill="#1a1a1a" font-style="italic">NOTCH1</text>
<text x="680.6" y="474.68" font-size="11" text-anchor="end" fill="#1a1a1a">4%</text>
<text x="115.5" y="486.71" font-size="11" text-anchor="end" fill="#1a1a1a" font-style="italic">RHPN2</text>
<text x="680.6" y="486.81" font-size="11" text-anchor="end" fill="#1a1a1a">4%</text>
<text x="115.5" y="498.85" font-size="11" text-anchor="end" fill="#1a1a1a" font-style="italic">SRSF2</text>
<text x="680.6" y="498.95" font-size="11" text-anchor="end" fill="#1a1a1a">4%</text>
<text x="115.5" y="510.98" font-size="11" text-anchor="end" fill="#1a1a1a" font-style="italic">TUBB8B</text>
<text x="680.6" y="511.08" font-size="11" text-anchor="end" fill="#1a1a1a">4%</text>
<text x="115.5" y="523.12" font-size="11" text-anchor="end" fill="#1a1a1a" font-style="italic">WNK2</text>
<text x="680.6" y="523.22" font-size="11" text-anchor="end" fill="#1a1a1a">4%</text>
<rect x="684.8" y="125.4" width="91.16" height="10.64" fill="#808080"/>
<rect x="775.81" y="125.4" width="62.42" height="10.64" fill="#000000"/>
<rect x="684.8" y="137.54" width="24.1" height="10.64" fill="#cc0000"/>
<rect x="708.75" y="137.54" width="81.58" height="10.64" fill="#000000"/>
<rect x="790.18" y="137.54" width="9.73" height="10.64" fill="#cc0000"/>
<rect x="799.76" y="137.54" width="4.94" height="10.64" fill="#4682b4"/>
<rect x="684.8" y="149.67" width="91.16" height="10.64" fill="#000000"/>
<rect x="775.81" y="149.67" width="19.31" height="10.64" fill="#4682b4"/>
<rect x="684.8" y="161.81" width="95.95" height="10.64" fill="#cc0000"/>
<rect x="684.8" y="173.94" width="52.84" height="10.64" fill="#000000"/>
<rect x="684.8" y="186.08" width="28.89" height="10.64" fill="#cc0000"/>
<rect x="713.54" y="186.08" width="9.73" height="10.64" fill="#000000"/>
<rect x="723.12" y="186.08" width="9.73" height="10.64" fill="#4682b4"/>
<rect x="684.8" y="198.22" width="43.26" height="10.64" fill="#000000"/>
<rect x="684.8" y="210.35" width="33.68" height="10.64" fill="#cc0000"/>
<rect x="718.33" y="210.35" width="4.94" height="10.64" fill="#4682b4"/>
<rect x="684.8" y="222.49" width="19.31" height="10.64" fill="#cc0000"/>
<rect x="703.96" y="222.49" width="4.94" height="10.64" fill="#000000"/>
<rect x="708.75" y="222.49" width="4.94" height="10.64" fill="#cc0000"/>
<rect x="713.54" y="222.49" width="9.73" height="10.64" fill="#4682b4"/>
<rect x="684.8" y="234.62" width="33.68" height="10.64" fill="#000000"/>
<rect x="684.8" y="246.76" width="14.52" height="10.64" fill="#cc0000"/>
<rect x="699.17" y="246.76" width="4.94" height="10.64" fill="#000000"/>
<rect x="703.96" y="246.76" width="14.52" height="10.64" fill="#cc0000"/>
<rect x="684.8" y="258.9" width="9.73" height="10.64" fill="#cc0000"/>
<rect x="694.38" y="258.9" width="4.94" height="10.64" fill="#000000"/>
<rect x="699.17" y="258.9" width="9.73" height="10.64" fill="#cc0000"/>
<rect x="708.75" y="258.9" width="9.73" height="10.64" fill="#4682b4"/>
<rect x="684.8" y="271.03" width="4.94" height="10.64" fill="#cc0000"/>
<rect x="689.59" y="271.03" width="28.89" height="10.64" fill="#000000"/>
<rect x="684.8" y="283.17" width="14.52" height="10.64" fill="#cc0000"/>
<rect x="699.17" y="283.17" width="4.94" height="10.64" fill="#000000"/>
<rect x="703.96" y="283.17" width="4.94" height="10.64" fill="#cc0000"/>
<rect x="708.75" y="283.17" width="4.94" height="10.64" fill="#4682b4"/>
<rect x="684.8" y="295.3" width="9.73" height="10.64" fill="#000000"/>
<rect x="694.38" y="295.3" width="19.31" height="10.64" fill="#4682b4"/>
<rect x="684.8" y="307.44" width="24.1" height="10.64" fill="#000000"/>
<rect x="684.8" y="319.58" width="19.31" height="10.64" fill="#000000"/>
<rect x="703.96" y="319.58" width="4.94" height="10.64" fill="#4682b4"/>
<rect x="684.8" y="331.71" width="9.73" height="10.64" fill="#cc0000"/>
<rect x="694.38" y="331.71" width="4.94" height="10.64" fill="#000000"/>
<rect x="699.17" y="331.71" width="9.73" height="10.64" fill="#4682b4"/>
<rect x="684.8" y="343.85" width="9.73" height="10.64" fill="#cc0000"/>
<rect x="694.38" y="343.85" width="4.94" height="10.64" fill="#000000"/>
<rect x="699.17" y="343.85" width="9.73" height="10.64" fill="#cc0000"/>
<rect x="684.8" y="355.98" width="24.1" height="10.64" fill="#cc0000"/>
<rect x="684.8" y="368.12" width="14.52" height="10.64" fill="#cc0000"/>
<rect x="699.17" y="368.12" width="4.94" height="10.64" fill="#000000"/>
<rect x="684.8" y="380.26" width="19.31" height="10.64" fill="#000000"/>
<rect x="684.8" y="392.39" width="9.73" height="10.64" fill="#cc0000"/>
<rect x="694.38" y="392.39" width="9.73" height="10.64" fill="#000000"/>
<rect x="684.8" y="404.53" width="14.52" height="10.64" fill="#000000"/>
<rect x="699.17" y="404.53" width="4.94" height="10.64" fill="#4682b4"/>
<rect x="684.8" y="416.66" width="4.94" height="10.64" fill="#cc0000"/>
<rect x="689.59" y="416.66" width="9.73" height="10.64" fill="#000000"/>
<rect x="699.17" y="416.66" width="4.94" height="10.64" fill="#4682b4"/>
<rect x="684.8" y="428.8" width="19.31" height="10.64" fill="#000000"/>
<rect x="684.8" y="440.94" width="19.31" height="10.64" fill="#cc0000"/>
<rect x="684.8" y="453.07" width="19.31" height="10.64" fill="#000000"/>
<rect x="684.8" y="465.21" width="4.94" height="10.64" fill="#cc0000"/>
<rect x="689.59" y="465.21" width="9.73" height="10.64" fill="#000000"/>
<rect x="699.17" y="465.21" width="4.94" height="10.64" fill="#4682b4"/>
<rect x="684.8" y="477.34" width="19.31" height="10.64" fill="#000000"/>
<rect x="684.8" y="489.48" width="19.31" height="10.64" fill="#000000"/>
<rect x="684.8" y="501.62" width="19.31" height="10.64" fill="#000000"/>
<rect x="684.8" y="513.75" width="19.31" height="10.64" fill="#000000"/>
<line x1="683.3" y1="120.8" x2="838.2" y2="120.8" stroke="#777" stroke-width="1.2"/>
<line x1="683.3" y1="110.7" x2="683.3" y2="121.4" stroke="#777" stroke-width="1.2"/>
<line x1="838.2" y1="110.7" x2="838.2" y2="121.4" stroke="#777" stroke-width="1.2"/>
<text x="684.5" y="105.2" font-size="11.2" text-anchor="middle" fill="#1a1a1a">0</text>
<text x="838.8" y="105.2" font-size="11.2" text-anchor="middle" fill="#1a1a1a">32</text>
<text x="761.6" y="98.9" font-size="13.5" text-anchor="middle" fill="#1a1a1a" textLength="93" lengthAdjust="spacingAndGlyphs">No. of samples</text>
<rect x="102" y="532.4" width="11.8" height="11.6" fill="#cc0000"/>
<rect x="102" y="553" width="11.8" height="11.6" fill="#000000"/>
<rect x="344.3" y="532.4" width="11.5" height="11.6" fill="#808080"/>
<rect x="344.3" y="553" width="11.5" height="11.6" fill="#4682b4"/>
<text x="120.4" y="542.2" font-size="13.6" text-anchor="start" fill="#1a1a1a" textLength="200.5" lengthAdjust="spacingAndGlyphs">Frameshift/nonsense/splice site</text>
<text x="120.4" y="562.8" font-size="13.6" text-anchor="start" fill="#1a1a1a" textLength="114.6" lengthAdjust="spacingAndGlyphs">Missense/in-frame</text>
<text x="362.6" y="542.2" font-size="13.6" text-anchor="start" fill="#1a1a1a" textLength="19.3" lengthAdjust="spacingAndGlyphs">ITD</text>
<text x="362.6" y="562.8" font-size="13.6" text-anchor="start" fill="#1a1a1a" textLength="118" lengthAdjust="spacingAndGlyphs">Multiple mutations</text>
<text x="3.6" y="600.2" font-size="20" text-anchor="start" fill="#000" font-weight="bold">b</text>
<line x1="124.4" y1="607.3" x2="124.4" y2="690.1" stroke="#666" stroke-width="1"/>
<line x1="120.9" y1="610.1" x2="124.4" y2="610.1" stroke="#666" stroke-width="1"/>
<text x="116.3" y="613.81" font-size="10.3" text-anchor="end" fill="#1a1a1a" textLength="32.9" lengthAdjust="spacingAndGlyphs">3,000</text>
<line x1="120.9" y1="636.7" x2="124.4" y2="636.7" stroke="#666" stroke-width="1"/>
<text x="116.3" y="640.41" font-size="10.3" text-anchor="end" fill="#1a1a1a" textLength="32.9" lengthAdjust="spacingAndGlyphs">2,000</text>
<line x1="120.9" y1="663.2" x2="124.4" y2="663.2" stroke="#666" stroke-width="1"/>
<text x="116.3" y="666.91" font-size="10.3" text-anchor="end" fill="#1a1a1a" textLength="32.9" lengthAdjust="spacingAndGlyphs">1,000</text>
<line x1="120.9" y1="689.7" x2="124.4" y2="689.7" stroke="#666" stroke-width="1"/>
<text x="116.3" y="693.41" font-size="10.3" text-anchor="end" fill="#1a1a1a">0</text>
<rect x="128.5" y="607.3" width="20.7" height="82.8" fill="#a50f15"/>
<rect x="152" y="656" width="21.2" height="34.1" fill="#a50f15"/>
<rect x="175.7" y="671.5" width="21.2" height="18.6" fill="#a50f15"/>
<rect x="199.6" y="686.2" width="21" height="3.9" fill="#a50f15"/>
<rect x="127.1" y="702.7" width="94.6" height="78.7" fill="#fee0d2" shape-rendering="crispEdges"/>
<rect x="127.1" y="702.7" width="23.65" height="26.23" fill="#fc9272" shape-rendering="crispEdges"/>
<rect x="174.4" y="702.7" width="23.65" height="26.23" fill="#fc9272" shape-rendering="crispEdges"/>
<rect x="198.05" y="702.7" width="23.65" height="26.23" fill="#fc9272" shape-rendering="crispEdges"/>
<rect x="174.4" y="728.93" width="23.65" height="26.23" fill="#fc9272" shape-rendering="crispEdges"/>
<rect x="198.05" y="755.17" width="23.65" height="26.23" fill="#fc9272" shape-rendering="crispEdges"/>
<text x="121" y="719.74" font-size="11.2" text-anchor="end" fill="#1a1a1a" font-style="italic" textLength="51" lengthAdjust="spacingAndGlyphs">NPM1.287</text>
<text x="121" y="745.97" font-size="11.2" text-anchor="end" fill="#1a1a1a" font-style="italic" textLength="48.2" lengthAdjust="spacingAndGlyphs">FLT3.595</text>
<text x="121" y="772.2" font-size="11.2" text-anchor="end" fill="#1a1a1a" font-style="italic" textLength="59.5" lengthAdjust="spacingAndGlyphs">NRAS.G12D</text>
<text transform="translate(73.3,649.2) rotate(-90)" font-size="13.8" text-anchor="middle" fill="#1a1a1a" textLength="63.8" lengthAdjust="spacingAndGlyphs">Cell count</text>
<text transform="translate(51.3,741.4) rotate(-90)" font-size="13.8" text-anchor="middle" fill="#1a1a1a" textLength="54.4" lengthAdjust="spacingAndGlyphs">Mutation</text>
<line x1="422.8" y1="607.1" x2="422.8" y2="690" stroke="#666" stroke-width="1"/>
<line x1="419.3" y1="610.3" x2="422.8" y2="610.3" stroke="#666" stroke-width="1"/>
<text x="413.6" y="614.26" font-size="11" text-anchor="end" fill="#1a1a1a" textLength="30.3" lengthAdjust="spacingAndGlyphs">1,500</text>
<line x1="419.3" y1="637.1" x2="422.8" y2="637.1" stroke="#666" stroke-width="1"/>
<text x="413.6" y="641.06" font-size="11" text-anchor="end" fill="#1a1a1a" textLength="30.3" lengthAdjust="spacingAndGlyphs">1,000</text>
<line x1="419.3" y1="663.4" x2="422.8" y2="663.4" stroke="#666" stroke-width="1"/>
<text x="413.6" y="667.36" font-size="11" text-anchor="end" fill="#1a1a1a">500</text>
<line x1="419.3" y1="690" x2="422.8" y2="690" stroke="#666" stroke-width="1"/>
<text x="413.6" y="693.96" font-size="11" text-anchor="end" fill="#1a1a1a">0</text>
<rect x="426.3" y="600.2" width="22.6" height="89.8" fill="#a50f15"/>
<rect x="451.6" y="670.6" width="22.8" height="19.4" fill="#a50f15"/>
<rect x="477" y="678.7" width="22.5" height="11.3" fill="#a50f15"/>
<rect x="502.8" y="685.8" width="22.2" height="4.2" fill="#a50f15"/>
<rect x="425" y="702.9" width="101.3" height="85.7" fill="#fee0d2" shape-rendering="crispEdges"/>
<rect x="425" y="702.9" width="25.32" height="28.57" fill="#fc9272" shape-rendering="crispEdges"/>
<rect x="475.65" y="702.9" width="25.32" height="28.57" fill="#fc9272" shape-rendering="crispEdges"/>
<rect x="500.97" y="702.9" width="25.32" height="28.57" fill="#fc9272" shape-rendering="crispEdges"/>
<rect x="425" y="731.47" width="25.32" height="28.57" fill="#fc9272" shape-rendering="crispEdges"/>
<rect x="500.97" y="760.03" width="25.32" height="28.57" fill="#fc9272" shape-rendering="crispEdges"/>
<text x="419" y="721.17" font-size="11.4" text-anchor="end" fill="#1a1a1a" font-style="italic" textLength="63.4" lengthAdjust="spacingAndGlyphs">U2AF1.S34Y</text>
<text x="419" y="749.74" font-size="11.4" text-anchor="end" fill="#1a1a1a" font-style="italic" textLength="51.1" lengthAdjust="spacingAndGlyphs">TET2.1819</text>
<text x="419" y="778.31" font-size="11.4" text-anchor="end" fill="#1a1a1a" font-style="italic" textLength="60.4" lengthAdjust="spacingAndGlyphs">NRAS.G13D</text>
<text transform="translate(373.7,649.2) rotate(-90)" font-size="13.8" text-anchor="middle" fill="#1a1a1a" textLength="63.8" lengthAdjust="spacingAndGlyphs">Cell count</text>
<text transform="translate(342.5,744) rotate(-90)" font-size="13.8" text-anchor="middle" fill="#1a1a1a" textLength="54.4" lengthAdjust="spacingAndGlyphs">Mutation</text>
<line x1="714.6" y1="597.2" x2="714.6" y2="687.8" stroke="#666" stroke-width="1"/>
<line x1="711.1" y1="604.2" x2="714.6" y2="604.2" stroke="#666" stroke-width="1"/>
<text x="705.2" y="609.02" font-size="13.4" text-anchor="end" fill="#1a1a1a" textLength="38" lengthAdjust="spacingAndGlyphs">3,000</text>
<line x1="711.1" y1="632.2" x2="714.6" y2="632.2" stroke="#666" stroke-width="1"/>
<text x="705.2" y="637.02" font-size="13.4" text-anchor="end" fill="#1a1a1a" textLength="38" lengthAdjust="spacingAndGlyphs">2,000</text>
<line x1="711.1" y1="659.7" x2="714.6" y2="659.7" stroke="#666" stroke-width="1"/>
<text x="705.2" y="664.52" font-size="13.4" text-anchor="end" fill="#1a1a1a" textLength="38" lengthAdjust="spacingAndGlyphs">1,000</text>
<line x1="711.1" y1="687.8" x2="714.6" y2="687.8" stroke="#666" stroke-width="1"/>
<text x="705.2" y="692.62" font-size="13.4" text-anchor="end" fill="#1a1a1a">0</text>
<rect x="718.7" y="596.9" width="30.4" height="90.9" fill="#a50f15"/>
<rect x="752.9" y="661.5" width="29.9" height="26.3" fill="#a50f15"/>
<rect x="787" y="675.4" width="30" height="12.4" fill="#a50f15"/>
<rect x="716.7" y="702.7" width="102.5" height="84.8" fill="#fee0d2" shape-rendering="crispEdges"/>
<rect x="716.7" y="702.7" width="34.17" height="42.4" fill="#fc9272" shape-rendering="crispEdges"/>
<rect x="785.03" y="745.1" width="34.17" height="42.4" fill="#fc9272" shape-rendering="crispEdges"/>
<text x="710.1" y="728.03" font-size="11.8" text-anchor="end" fill="#1a1a1a" font-style="italic" textLength="61.2" lengthAdjust="spacingAndGlyphs">NRAS.G13D</text>
<text x="710.1" y="770.43" font-size="11.8" text-anchor="end" fill="#1a1a1a" font-style="italic" textLength="59.7" lengthAdjust="spacingAndGlyphs">KRAS.G13D</text>
<text transform="translate(659.3,649) rotate(-90)" font-size="13.8" text-anchor="middle" fill="#1a1a1a" textLength="63.8" lengthAdjust="spacingAndGlyphs">Cell count</text>
<text transform="translate(639.2,748.2) rotate(-90)" font-size="13.8" text-anchor="middle" fill="#1a1a1a" textLength="54.4" lengthAdjust="spacingAndGlyphs">Mutation</text>
<circle cx="82.8" cy="902.7" r="63" fill="#fb8f70" stroke="#cf4536" stroke-width="1.4"/>
<circle cx="214.9" cy="863.5" r="45" fill="#fb8f70" stroke="#cf4536" stroke-width="1.4"/>
<circle cx="190.2" cy="956" r="21.5" fill="#fb8f70" stroke="#cf4536" stroke-width="1.4"/>
<line x1="142.7" y1="883" x2="166.93" y2="865.67" stroke="#a50f15" stroke-width="1.25"/>
<polygon points="170.1,863.4 166.85,869.17 166.93,865.67 163.59,864.61" fill="#a50f15"/>
<line x1="137.8" y1="935.5" x2="165.4" y2="952.92" stroke="#a50f15" stroke-width="1.25"/>
<polygon points="168.7,955 162.13,954.17 165.4,952.92 165.12,949.43" fill="#a50f15"/>
<text x="81.5" y="907.3" font-size="13" text-anchor="middle" fill="#1a1a1a" font-style="italic">NPM1.287</text>
<text x="212.8" y="860.1" font-size="13" text-anchor="middle" fill="#1a1a1a" font-style="italic">NPM1.287</text>
<text x="212.8" y="875.8" font-size="13" text-anchor="middle" fill="#1a1a1a" font-style="italic">FLT3.595</text>
<text x="221.6" y="950.1" font-size="13" text-anchor="start" fill="#1a1a1a" font-style="italic">NPM1.287</text>
<text x="221.6" y="969.1" font-size="13" text-anchor="start" fill="#1a1a1a" font-style="italic">NRAS.G12D</text>
<circle cx="334.2" cy="910.2" r="29.5" fill="#fb8f70" stroke="#cf4536" stroke-width="1.4"/>
<circle cx="482" cy="852.7" r="51" fill="#fb8f70" stroke="#cf4536" stroke-width="1.4"/>
<circle cx="448.2" cy="949.2" r="19.9" fill="#fb8f70" stroke="#cf4536" stroke-width="1.4"/>
<line x1="357.7" y1="890.4" x2="425.64" y2="855.29" stroke="#a50f15" stroke-width="1.25"/>
<polygon points="429.1,853.5 425.06,858.74 425.64,855.29 422.48,853.77" fill="#a50f15"/>
<line x1="362.8" y1="918" x2="424.86" y2="946.76" stroke="#a50f15" stroke-width="1.25"/>
<polygon points="428.4,948.4 421.78,948.42 424.86,946.76 424.13,943.34" fill="#a50f15"/>
<text x="334.5" y="878.4" font-size="13" text-anchor="middle" fill="#1a1a1a" font-style="italic">U2AF1.S34Y</text>
<text x="479.8" y="851" font-size="13" text-anchor="middle" fill="#1a1a1a" font-style="italic">U2AF1.S34Y</text>
<text x="479.5" y="866.6" font-size="13" text-anchor="middle" fill="#1a1a1a" font-style="italic">TET2.1819</text>
<text x="471.6" y="942.6" font-size="13" text-anchor="start" fill="#1a1a1a" font-style="italic">U2AF1.S34Y</text>
<text x="471.6" y="958.6" font-size="13" text-anchor="start" fill="#1a1a1a" font-style="italic">NRAS.G13D</text>
<circle cx="646.5" cy="888" r="55.4" fill="#fb8f70" stroke="#cf4536" stroke-width="1.4"/>
<circle cx="769.2" cy="897.4" r="24" fill="#fb8f70" stroke="#cf4536" stroke-width="1.4"/>
<text x="644" y="893.2" font-size="13" text-anchor="middle" fill="#1a1a1a" font-style="italic">NRAS.G13D</text>
<text x="794.5" y="865.6" font-size="13" text-anchor="middle" fill="#1a1a1a" font-style="italic">KRAS.G13D</text>
<text x="2.2" y="1020.2" font-size="20" text-anchor="start" fill="#000" font-weight="bold">c</text>
<line x1="47.3" y1="1035.4" x2="47.3" y2="1280.1" stroke="#666" stroke-width="1"/>
<line x1="41.8" y1="1280.1" x2="47.3" y2="1280.1" stroke="#666" stroke-width="1"/>
<text x="36" y="1284.4" font-size="12" text-anchor="end" fill="#1a1a1a">0</text>
<line x1="41.8" y1="1218.9" x2="47.3" y2="1218.9" stroke="#666" stroke-width="1"/>
<text x="36" y="1223.2" font-size="12" text-anchor="end" fill="#1a1a1a">10</text>
<line x1="41.8" y1="1157.7" x2="47.3" y2="1157.7" stroke="#666" stroke-width="1"/>
<text x="36" y="1162" font-size="12" text-anchor="end" fill="#1a1a1a">20</text>
<line x1="41.8" y1="1096.5" x2="47.3" y2="1096.5" stroke="#666" stroke-width="1"/>
<text x="36" y="1100.8" font-size="12" text-anchor="end" fill="#1a1a1a">30</text>
<line x1="41.8" y1="1035.3" x2="47.3" y2="1035.3" stroke="#666" stroke-width="1"/>
<text x="36" y="1039.6" font-size="12" text-anchor="end" fill="#1a1a1a">40</text>
<text transform="translate(14.9,1156.5) rotate(-90)" font-size="14.5" text-anchor="middle" fill="#1a1a1a" textLength="133.7" lengthAdjust="spacingAndGlyphs">Mutation percentage</text>
<line x1="47.3" y1="1280.1" x2="410" y2="1280.1" stroke="#666" stroke-width="1"/>
<line x1="53.1" y1="1281.1" x2="53.1" y2="1285.6" stroke="#666" stroke-width="1"/>
<rect x="48.7" y="1084.26" width="4" height="195.84" fill="#ff0000"/>
<circle cx="50.7" cy="1084.26" r="4.6" fill="#ff0000"/>
<rect x="54.7" y="1076.92" width="3.2" height="203.18" fill="#000"/>
<circle cx="56.3" cy="1076.92" r="4.6" fill="#000"/>
<text transform="translate(57,1291.5) rotate(-90)" font-size="11" font-style="italic" text-anchor="end" fill="#1a1a1a">FLT3</text>
<line x1="66.7" y1="1281.1" x2="66.7" y2="1285.6" stroke="#666" stroke-width="1"/>
<rect x="62.3" y="1127.1" width="4" height="153" fill="#ff0000"/>
<circle cx="64.3" cy="1127.1" r="4.6" fill="#ff0000"/>
<rect x="68.3" y="1149.74" width="3.2" height="130.36" fill="#000"/>
<circle cx="69.9" cy="1149.74" r="4.6" fill="#000"/>
<text transform="translate(70.6,1291.5) rotate(-90)" font-size="11" font-style="italic" text-anchor="end" fill="#1a1a1a">DNMT3A</text>
<line x1="80.3" y1="1281.1" x2="80.3" y2="1285.6" stroke="#666" stroke-width="1"/>
<rect x="75.9" y="1139.34" width="4" height="140.76" fill="#ff0000"/>
<circle cx="77.9" cy="1139.34" r="4.6" fill="#ff0000"/>
<rect x="81.9" y="1176.67" width="3.2" height="103.43" fill="#000"/>
<circle cx="83.5" cy="1176.67" r="4.6" fill="#000"/>
<text transform="translate(84.2,1291.5) rotate(-90)" font-size="11" font-style="italic" text-anchor="end" fill="#1a1a1a">NRAS</text>
<line x1="93.9" y1="1281.1" x2="93.9" y2="1285.6" stroke="#666" stroke-width="1"/>
<rect x="89.5" y="1157.7" width="4" height="122.4" fill="#ff0000"/>
<circle cx="91.5" cy="1157.7" r="4.6" fill="#ff0000"/>
<rect x="95.5" y="1115.47" width="3.2" height="164.63" fill="#000"/>
<circle cx="97.1" cy="1115.47" r="4.6" fill="#000"/>
<text transform="translate(97.8,1291.5) rotate(-90)" font-size="11" font-style="italic" text-anchor="end" fill="#1a1a1a">NPM1</text>
<line x1="107.5" y1="1281.1" x2="107.5" y2="1285.6" stroke="#666" stroke-width="1"/>
<rect x="103.1" y="1212.78" width="4" height="67.32" fill="#ff0000"/>
<circle cx="105.1" cy="1212.78" r="4.6" fill="#ff0000"/>
<rect x="109.1" y="1214" width="3.2" height="66.1" fill="#000"/>
<circle cx="110.7" cy="1214" r="4.6" fill="#000"/>
<text transform="translate(111.4,1291.5) rotate(-90)" font-size="11" font-style="italic" text-anchor="end" fill="#1a1a1a">IDH2</text>
<line x1="121.1" y1="1281.1" x2="121.1" y2="1285.6" stroke="#666" stroke-width="1"/>
<rect x="116.7" y="1219.51" width="4" height="60.59" fill="#ff0000"/>
<circle cx="118.7" cy="1219.51" r="4.6" fill="#ff0000"/>
<rect x="122.7" y="1218.29" width="3.2" height="61.81" fill="#000"/>
<circle cx="124.3" cy="1218.29" r="4.6" fill="#000"/>
<text transform="translate(125,1291.5) rotate(-90)" font-size="11" font-style="italic" text-anchor="end" fill="#1a1a1a">RUNX1</text>
<line x1="134.7" y1="1281.1" x2="134.7" y2="1285.6" stroke="#666" stroke-width="1"/>
<rect x="130.3" y="1225.63" width="4" height="54.47" fill="#ff0000"/>
<circle cx="132.3" cy="1225.63" r="4.6" fill="#ff0000"/>
<rect x="136.3" y="1240.32" width="3.2" height="39.78" fill="#000"/>
<circle cx="137.9" cy="1240.32" r="4.6" fill="#000"/>
<text transform="translate(138.6,1291.5) rotate(-90)" font-size="11" font-style="italic" text-anchor="end" fill="#1a1a1a">KRAS</text>
<line x1="148.3" y1="1281.1" x2="148.3" y2="1285.6" stroke="#666" stroke-width="1"/>
<rect x="143.9" y="1231.75" width="4" height="48.35" fill="#ff0000"/>
<circle cx="145.9" cy="1231.75" r="4.6" fill="#ff0000"/>
<rect x="149.9" y="1221.35" width="3.2" height="58.75" fill="#000"/>
<circle cx="151.5" cy="1221.35" r="4.6" fill="#000"/>
<text transform="translate(152.2,1291.5) rotate(-90)" font-size="11" font-style="italic" text-anchor="end" fill="#1a1a1a">ASXL1</text>
<line x1="161.9" y1="1281.1" x2="161.9" y2="1285.6" stroke="#666" stroke-width="1"/>
<rect x="157.5" y="1231.75" width="4" height="48.35" fill="#ff0000"/>
<circle cx="159.5" cy="1231.75" r="4.6" fill="#ff0000"/>
<rect x="163.5" y="1251.34" width="3.2" height="28.76" fill="#000"/>
<circle cx="165.1" cy="1251.34" r="4.6" fill="#000"/>
<text transform="translate(165.8,1291.5) rotate(-90)" font-size="11" font-style="italic" text-anchor="end" fill="#1a1a1a">WT1</text>
<line x1="175.5" y1="1281.1" x2="175.5" y2="1285.6" stroke="#666" stroke-width="1"/>
<rect x="171.1" y="1238.48" width="4" height="41.62" fill="#ff0000"/>
<circle cx="173.1" cy="1238.48" r="4.6" fill="#ff0000"/>
<rect x="177.1" y="1231.14" width="3.2" height="48.96" fill="#000"/>
<circle cx="178.7" cy="1231.14" r="4.6" fill="#000"/>
<text transform="translate(179.4,1291.5) rotate(-90)" font-size="11" font-style="italic" text-anchor="end" fill="#1a1a1a">IDH1</text>
<line x1="189.1" y1="1281.1" x2="189.1" y2="1285.6" stroke="#666" stroke-width="1"/>
<rect x="184.7" y="1238.48" width="4" height="41.62" fill="#ff0000"/>
<circle cx="186.7" cy="1238.48" r="4.6" fill="#ff0000"/>
<rect x="190.7" y="1278.88" width="3.2" height="1.22" fill="#000"/>
<circle cx="192.3" cy="1278.88" r="4.6" fill="#000"/>
<text transform="translate(193,1291.5) rotate(-90)" font-size="11" font-style="italic" text-anchor="end" fill="#1a1a1a">PHIP</text>
<line x1="202.7" y1="1281.1" x2="202.7" y2="1285.6" stroke="#666" stroke-width="1"/>
<rect x="198.3" y="1238.48" width="4" height="41.62" fill="#ff0000"/>
<circle cx="200.3" cy="1238.48" r="4.6" fill="#ff0000"/>
<rect x="204.3" y="1193.2" width="3.2" height="86.9" fill="#000"/>
<circle cx="205.9" cy="1193.2" r="4.6" fill="#000"/>
<text transform="translate(206.6,1291.5) rotate(-90)" font-size="11" font-style="italic" text-anchor="end" fill="#1a1a1a">TET2</text>
<line x1="216.3" y1="1281.1" x2="216.3" y2="1285.6" stroke="#666" stroke-width="1"/>
<rect x="211.9" y="1238.48" width="4" height="41.62" fill="#ff0000"/>
<circle cx="213.9" cy="1238.48" r="4.6" fill="#ff0000"/>
<rect x="217.9" y="1218.29" width="3.2" height="61.81" fill="#000"/>
<circle cx="219.5" cy="1218.29" r="4.6" fill="#000"/>
<text transform="translate(220.2,1291.5) rotate(-90)" font-size="11" font-style="italic" text-anchor="end" fill="#1a1a1a">TP53</text>
<line x1="229.9" y1="1281.1" x2="229.9" y2="1285.6" stroke="#666" stroke-width="1"/>
<rect x="225.5" y="1243.38" width="4" height="36.72" fill="#ff0000"/>
<circle cx="227.5" cy="1243.38" r="4.6" fill="#ff0000"/>
<rect x="231.5" y="1248.28" width="3.2" height="31.82" fill="#000"/>
<circle cx="233.1" cy="1248.28" r="4.6" fill="#000"/>
<text transform="translate(233.8,1291.5) rotate(-90)" font-size="11" font-style="italic" text-anchor="end" fill="#1a1a1a">BCOR</text>
<line x1="243.5" y1="1281.1" x2="243.5" y2="1285.6" stroke="#666" stroke-width="1"/>
<rect x="239.1" y="1243.99" width="4" height="36.11" fill="#ff0000"/>
<circle cx="241.1" cy="1243.99" r="4.6" fill="#ff0000"/>
<rect x="245.1" y="1254.4" width="3.2" height="25.7" fill="#000"/>
<circle cx="246.7" cy="1254.4" r="4.6" fill="#000"/>
<text transform="translate(247.4,1291.5) rotate(-90)" font-size="11" font-style="italic" text-anchor="end" fill="#1a1a1a">CEBP</text>
<line x1="257.1" y1="1281.1" x2="257.1" y2="1285.6" stroke="#666" stroke-width="1"/>
<rect x="252.7" y="1249.5" width="4" height="30.6" fill="#ff0000"/>
<circle cx="254.7" cy="1249.5" r="4.6" fill="#ff0000"/>
<rect x="258.7" y="1250.11" width="3.2" height="29.99" fill="#000"/>
<circle cx="260.3" cy="1250.11" r="4.6" fill="#000"/>
<text transform="translate(261,1291.5) rotate(-90)" font-size="11" font-style="italic" text-anchor="end" fill="#1a1a1a">GATA2</text>
<line x1="270.7" y1="1281.1" x2="270.7" y2="1285.6" stroke="#666" stroke-width="1"/>
<rect x="266.3" y="1249.5" width="4" height="30.6" fill="#ff0000"/>
<circle cx="268.3" cy="1249.5" r="4.6" fill="#ff0000"/>
<rect x="272.3" y="1270.92" width="3.2" height="9.18" fill="#000"/>
<circle cx="273.9" cy="1270.92" r="4.6" fill="#000"/>
<text transform="translate(274.6,1291.5) rotate(-90)" font-size="11" font-style="italic" text-anchor="end" fill="#1a1a1a">KIT</text>
<line x1="284.3" y1="1281.1" x2="284.3" y2="1285.6" stroke="#666" stroke-width="1"/>
<rect x="279.9" y="1249.5" width="4" height="30.6" fill="#ff0000"/>
<circle cx="281.9" cy="1249.5" r="4.6" fill="#ff0000"/>
<rect x="285.9" y="1260.52" width="3.2" height="19.58" fill="#000"/>
<circle cx="287.5" cy="1260.52" r="4.6" fill="#000"/>
<text transform="translate(288.2,1291.5) rotate(-90)" font-size="11" font-style="italic" text-anchor="end" fill="#1a1a1a">NF1</text>
<line x1="297.9" y1="1281.1" x2="297.9" y2="1285.6" stroke="#666" stroke-width="1"/>
<rect x="293.5" y="1249.5" width="4" height="30.6" fill="#ff0000"/>
<circle cx="295.5" cy="1249.5" r="4.6" fill="#ff0000"/>
<rect x="299.5" y="1276.73" width="3.2" height="3.37" fill="#000"/>
<circle cx="301.1" cy="1276.73" r="4.6" fill="#000"/>
<text transform="translate(301.8,1291.5) rotate(-90)" font-size="11" font-style="italic" text-anchor="end" fill="#1a1a1a">RAD21</text>
<line x1="311.5" y1="1281.1" x2="311.5" y2="1285.6" stroke="#666" stroke-width="1"/>
<rect x="307.1" y="1249.5" width="4" height="30.6" fill="#ff0000"/>
<circle cx="309.1" cy="1249.5" r="4.6" fill="#ff0000"/>
<rect x="313.1" y="1226.86" width="3.2" height="53.24" fill="#000"/>
<circle cx="314.7" cy="1226.86" r="4.6" fill="#000"/>
<text transform="translate(315.4,1291.5) rotate(-90)" font-size="11" font-style="italic" text-anchor="end" fill="#1a1a1a">STAG2</text>
<line x1="325.1" y1="1281.1" x2="325.1" y2="1285.6" stroke="#666" stroke-width="1"/>
<rect x="320.7" y="1255.62" width="4" height="24.48" fill="#ff0000"/>
<circle cx="322.7" cy="1255.62" r="4.6" fill="#ff0000"/>
<rect x="326.7" y="1278.57" width="3.2" height="1.53" fill="#000"/>
<circle cx="328.3" cy="1278.57" r="4.6" fill="#000"/>
<text transform="translate(329,1291.5) rotate(-90)" font-size="11" font-style="italic" text-anchor="end" fill="#1a1a1a">ASXL2</text>
<line x1="338.7" y1="1281.1" x2="338.7" y2="1285.6" stroke="#666" stroke-width="1"/>
<rect x="334.3" y="1255.62" width="4" height="24.48" fill="#ff0000"/>
<circle cx="336.3" cy="1255.62" r="4.6" fill="#ff0000"/>
<rect x="340.3" y="1277.96" width="3.2" height="2.14" fill="#000"/>
<circle cx="341.9" cy="1277.96" r="4.6" fill="#000"/>
<text transform="translate(342.6,1291.5) rotate(-90)" font-size="11" font-style="italic" text-anchor="end" fill="#1a1a1a">INFL3</text>
<line x1="352.3" y1="1281.1" x2="352.3" y2="1285.6" stroke="#666" stroke-width="1"/>
<rect x="347.9" y="1255.62" width="4" height="24.48" fill="#ff0000"/>
<circle cx="349.9" cy="1255.62" r="4.6" fill="#ff0000"/>
<rect x="353.9" y="1280.1" width="3.2" height="0" fill="#000"/>
<circle cx="355.5" cy="1280.1" r="4.6" fill="#000"/>
<text transform="translate(356.2,1291.5) rotate(-90)" font-size="11" font-style="italic" text-anchor="end" fill="#1a1a1a">MN1</text>
<line x1="365.9" y1="1281.1" x2="365.9" y2="1285.6" stroke="#666" stroke-width="1"/>
<rect x="361.5" y="1255.62" width="4" height="24.48" fill="#ff0000"/>
<circle cx="363.5" cy="1255.62" r="4.6" fill="#ff0000"/>
<rect x="367.5" y="1276.73" width="3.2" height="3.37" fill="#000"/>
<circle cx="369.1" cy="1276.73" r="4.6" fill="#000"/>
<text transform="translate(369.8,1291.5) rotate(-90)" font-size="11" font-style="italic" text-anchor="end" fill="#1a1a1a">MYC</text>
<line x1="379.5" y1="1281.1" x2="379.5" y2="1285.6" stroke="#666" stroke-width="1"/>
<rect x="375.1" y="1255.62" width="4" height="24.48" fill="#ff0000"/>
<circle cx="377.1" cy="1255.62" r="4.6" fill="#ff0000"/>
<rect x="381.1" y="1220.12" width="3.2" height="59.98" fill="#000"/>
<circle cx="382.7" cy="1220.12" r="4.6" fill="#000"/>
<text transform="translate(383.4,1291.5) rotate(-90)" font-size="11" font-style="italic" text-anchor="end" fill="#1a1a1a">SRSF2</text>
<line x1="393.1" y1="1281.1" x2="393.1" y2="1285.6" stroke="#666" stroke-width="1"/>
<rect x="388.7" y="1255.62" width="4" height="24.48" fill="#ff0000"/>
<circle cx="390.7" cy="1255.62" r="4.6" fill="#ff0000"/>
<rect x="394.7" y="1280.1" width="3.2" height="0" fill="#000"/>
<circle cx="396.3" cy="1280.1" r="4.6" fill="#000"/>
<text transform="translate(397,1291.5) rotate(-90)" font-size="11" font-style="italic" text-anchor="end" fill="#1a1a1a">TUBB8B</text>
<line x1="406.7" y1="1281.1" x2="406.7" y2="1285.6" stroke="#666" stroke-width="1"/>
<rect x="402.3" y="1255.62" width="4" height="24.48" fill="#ff0000"/>
<circle cx="404.3" cy="1255.62" r="4.6" fill="#ff0000"/>
<rect x="408.3" y="1278.88" width="3.2" height="1.22" fill="#000"/>
<circle cx="409.9" cy="1278.88" r="4.6" fill="#000"/>
<text transform="translate(410.6,1291.5) rotate(-90)" font-size="11" font-style="italic" text-anchor="end" fill="#1a1a1a">WNK2</text>
<circle cx="309.5" cy="1043.4" r="4.6" fill="#ff0000"/>
<circle cx="309.5" cy="1060.9" r="4.6" fill="#000"/>
<text x="320.5" y="1047.6" font-size="13.5" text-anchor="start" fill="#1a1a1a">Black (<tspan font-style="italic">n</tspan> = 100)</text>
<text x="320.5" y="1065.1" font-size="13.5" text-anchor="start" fill="#1a1a1a">White (<tspan font-style="italic">n</tspan> = 762)</text>
<text x="191" y="1224" font-size="8.2" text-anchor="middle" fill="#333">&lt; 0.001</text>
<polyline points="187.3,1231.4 187.3,1226.8 194.9,1226.8 194.9,1231.4" fill="none" stroke="#444" stroke-width="1"/>
<polyline points="322.5,1249.8 322.5,1244.8 330.3,1244.8 330.3,1249.8" fill="none" stroke="#444" stroke-width="1"/>
<polyline points="335.9,1249.8 335.9,1244.8 343.7,1244.8 343.7,1249.8" fill="none" stroke="#444" stroke-width="1"/>
<polyline points="349.7,1249.8 349.7,1244.8 357.5,1244.8 357.5,1249.8" fill="none" stroke="#444" stroke-width="1"/>
<polyline points="363.3,1249.8 363.3,1244.8 371.1,1244.8 371.1,1249.8" fill="none" stroke="#444" stroke-width="1"/>
<polyline points="390.4,1249.8 390.4,1244.8 398.2,1244.8 398.2,1249.8" fill="none" stroke="#444" stroke-width="1"/>
<polyline points="404.2,1249.8 404.2,1244.8 412,1244.8 412,1249.8" fill="none" stroke="#444" stroke-width="1"/>
<polyline points="375.7,1213.8 375.7,1209.2 383.3,1209.2 383.3,1213.8" fill="none" stroke="#444" stroke-width="1"/>
<text x="327.5" y="1243.2" font-size="8.2" text-anchor="middle" fill="#333">&lt;0.001</text>
<text x="340" y="1232" font-size="8.2" text-anchor="middle" fill="#333">0.005</text>
<text x="355.5" y="1243.2" font-size="8.2" text-anchor="middle" fill="#333">0.005</text>
<text x="371" y="1232" font-size="8.2" text-anchor="middle" fill="#333">0.003</text>
<text x="379.5" y="1208" font-size="8.2" text-anchor="middle" fill="#333">0.01</text>
<text x="397.6" y="1232" font-size="8.2" text-anchor="middle" fill="#333">0.005</text>
<text x="409" y="1243.2" font-size="8.2" text-anchor="middle" fill="#333">&lt;0.001</text>
<text x="455.5" y="1020.3" font-size="20" text-anchor="start" fill="#000" font-weight="bold">d</text>
<line x1="497.4" y1="1021" x2="497.4" y2="1282.3" stroke="#666" stroke-width="1"/>
<line x1="492.6" y1="1282.3" x2="497.4" y2="1282.3" stroke="#666" stroke-width="1"/>
<text x="487" y="1286.5" font-size="11.5" text-anchor="end" fill="#1a1a1a">0</text>
<line x1="492.6" y1="1230.2" x2="497.4" y2="1230.2" stroke="#666" stroke-width="1"/>
<text x="487" y="1234.4" font-size="11.5" text-anchor="end" fill="#1a1a1a">1</text>
<line x1="492.6" y1="1178.1" x2="497.4" y2="1178.1" stroke="#666" stroke-width="1"/>
<text x="487" y="1182.3" font-size="11.5" text-anchor="end" fill="#1a1a1a">2</text>
<line x1="492.6" y1="1126" x2="497.4" y2="1126" stroke="#666" stroke-width="1"/>
<text x="487" y="1130.2" font-size="11.5" text-anchor="end" fill="#1a1a1a">3</text>
<line x1="492.6" y1="1073.9" x2="497.4" y2="1073.9" stroke="#666" stroke-width="1"/>
<text x="487" y="1078.1" font-size="11.5" text-anchor="end" fill="#1a1a1a">4</text>
<line x1="492.6" y1="1021.8" x2="497.4" y2="1021.8" stroke="#666" stroke-width="1"/>
<text x="487" y="1026" font-size="11.5" text-anchor="end" fill="#1a1a1a">5</text>
<text transform="translate(467.7,1153.3) rotate(-90)" font-size="14.5" text-anchor="middle" fill="#1a1a1a" textLength="137.3" lengthAdjust="spacingAndGlyphs">Mutation percentage</text>
<line x1="497.4" y1="1282.3" x2="866" y2="1282.3" stroke="#666" stroke-width="1"/>
<line x1="514.2" y1="1283.3" x2="514.2" y2="1288" stroke="#666" stroke-width="1"/>
<rect x="499.9" y="1073.9" width="5" height="208.4" fill="#ff0000"/>
<circle cx="502.4" cy="1073.9" r="4.6" fill="#ff0000"/>
<rect x="508" y="1204.15" width="5" height="78.15" fill="#0000cc"/>
<circle cx="510.5" cy="1204.15" r="4.6" fill="#0000cc"/>
<rect x="516.7" y="1224.99" width="5" height="57.31" fill="#808080"/>
<circle cx="519.2" cy="1224.99" r="4.6" fill="#808080"/>
<rect x="523.7" y="1240.62" width="5" height="41.68" fill="#000"/>
<circle cx="526.2" cy="1240.62" r="4.6" fill="#000"/>
<text transform="translate(520,1300.5) rotate(-45)" font-size="12.6" text-anchor="end" fill="#1a1a1a">MYC</text>
<line x1="551.3" y1="1283.3" x2="551.3" y2="1288" stroke="#666" stroke-width="1"/>
<rect x="537" y="1073.9" width="5" height="208.4" fill="#ff0000"/>
<circle cx="539.5" cy="1073.9" r="4.6" fill="#ff0000"/>
<rect x="545.1" y="1256.25" width="5" height="26.05" fill="#0000cc"/>
<circle cx="547.6" cy="1256.25" r="4.6" fill="#0000cc"/>
<rect x="553.8" y="1261.46" width="5" height="20.84" fill="#808080"/>
<circle cx="556.3" cy="1261.46" r="4.6" fill="#808080"/>
<circle cx="563.3" cy="1282.3" r="4.6" fill="#000"/>
<text transform="translate(557.1,1300.5) rotate(-45)" font-size="12.6" text-anchor="end" fill="#1a1a1a">IFNL3</text>
<line x1="588.4" y1="1283.3" x2="588.4" y2="1288" stroke="#666" stroke-width="1"/>
<rect x="574.1" y="1073.9" width="5" height="208.4" fill="#ff0000"/>
<circle cx="576.6" cy="1073.9" r="4.6" fill="#ff0000"/>
<rect x="582.2" y="1178.1" width="5" height="104.2" fill="#0000cc"/>
<circle cx="584.7" cy="1178.1" r="4.6" fill="#0000cc"/>
<rect x="590.9" y="1245.83" width="5" height="36.47" fill="#808080"/>
<circle cx="593.4" cy="1245.83" r="4.6" fill="#808080"/>
<circle cx="600.4" cy="1282.3" r="4.6" fill="#000"/>
<text transform="translate(594.2,1300.5) rotate(-45)" font-size="12.6" text-anchor="end" fill="#1a1a1a">COL12A1</text>
<line x1="625.5" y1="1283.3" x2="625.5" y2="1288" stroke="#666" stroke-width="1"/>
<rect x="611.2" y="1073.9" width="5" height="208.4" fill="#ff0000"/>
<circle cx="613.7" cy="1073.9" r="4.6" fill="#ff0000"/>
<rect x="619.3" y="1256.25" width="5" height="26.05" fill="#0000cc"/>
<circle cx="621.8" cy="1256.25" r="4.6" fill="#0000cc"/>
<rect x="628" y="1256.25" width="5" height="26.05" fill="#808080"/>
<circle cx="630.5" cy="1256.25" r="4.6" fill="#808080"/>
<circle cx="637.5" cy="1282.3" r="4.6" fill="#000"/>
<text transform="translate(631.3,1300.5) rotate(-45)" font-size="12.6" text-anchor="end" fill="#1a1a1a">MN1</text>
<line x1="662.6" y1="1283.3" x2="662.6" y2="1288" stroke="#666" stroke-width="1"/>
<rect x="648.3" y="1073.9" width="5" height="208.4" fill="#ff0000"/>
<circle cx="650.8" cy="1073.9" r="4.6" fill="#ff0000"/>
<circle cx="658.9" cy="1282.3" r="4.6" fill="#0000cc"/>
<circle cx="667.6" cy="1282.3" r="4.6" fill="#808080"/>
<circle cx="674.6" cy="1282.3" r="4.6" fill="#000"/>
<text transform="translate(668.4,1300.5) rotate(-45)" font-size="12.6" text-anchor="end" fill="#1a1a1a">TUBB8B</text>
<line x1="699.7" y1="1283.3" x2="699.7" y2="1288" stroke="#666" stroke-width="1"/>
<rect x="685.4" y="1073.9" width="5" height="208.4" fill="#ff0000"/>
<circle cx="687.9" cy="1073.9" r="4.6" fill="#ff0000"/>
<rect x="693.5" y="1230.2" width="5" height="52.1" fill="#0000cc"/>
<circle cx="696" cy="1230.2" r="4.6" fill="#0000cc"/>
<rect x="702.2" y="1251.04" width="5" height="31.26" fill="#808080"/>
<circle cx="704.7" cy="1251.04" r="4.6" fill="#808080"/>
<circle cx="711.7" cy="1282.3" r="4.6" fill="#000"/>
<text transform="translate(705.5,1300.5) rotate(-45)" font-size="12.6" text-anchor="end" fill="#1a1a1a">WNK2</text>
<line x1="736.8" y1="1283.3" x2="736.8" y2="1288" stroke="#666" stroke-width="1"/>
<rect x="722.5" y="1073.9" width="5" height="208.4" fill="#ff0000"/>
<circle cx="725" cy="1073.9" r="4.6" fill="#ff0000"/>
<circle cx="733.1" cy="1282.3" r="4.6" fill="#0000cc"/>
<rect x="739.3" y="1261.46" width="5" height="20.84" fill="#808080"/>
<circle cx="741.8" cy="1261.46" r="4.6" fill="#808080"/>
<circle cx="748.8" cy="1282.3" r="4.6" fill="#000"/>
<text transform="translate(742.6,1300.5) rotate(-45)" font-size="12.6" text-anchor="end" fill="#1a1a1a">HMCN2</text>
<line x1="773.9" y1="1283.3" x2="773.9" y2="1288" stroke="#666" stroke-width="1"/>
<rect x="759.6" y="1073.9" width="5" height="208.4" fill="#ff0000"/>
<circle cx="762.1" cy="1073.9" r="4.6" fill="#ff0000"/>
<circle cx="770.2" cy="1282.3" r="4.6" fill="#0000cc"/>
<rect x="776.4" y="1219.78" width="5" height="62.52" fill="#808080"/>
<circle cx="778.9" cy="1219.78" r="4.6" fill="#808080"/>
<circle cx="785.9" cy="1282.3" r="4.6" fill="#000"/>
<text transform="translate(779.7,1300.5) rotate(-45)" font-size="12.6" text-anchor="end" fill="#1a1a1a">RHPN2</text>
<line x1="811" y1="1283.3" x2="811" y2="1288" stroke="#666" stroke-width="1"/>
<rect x="796.7" y="1073.9" width="5" height="208.4" fill="#ff0000"/>
<circle cx="799.2" cy="1073.9" r="4.6" fill="#ff0000"/>
<rect x="804.8" y="1230.2" width="5" height="52.1" fill="#0000cc"/>
<circle cx="807.3" cy="1230.2" r="4.6" fill="#0000cc"/>
<rect x="813.5" y="1230.2" width="5" height="52.1" fill="#808080"/>
<circle cx="816" cy="1230.2" r="4.6" fill="#808080"/>
<rect x="820.5" y="1183.31" width="5" height="98.99" fill="#000"/>
<circle cx="823" cy="1183.31" r="4.6" fill="#000"/>
<text transform="translate(816.8,1300.5) rotate(-45)" font-size="12.6" text-anchor="end" fill="#1a1a1a">CTCF</text>
<line x1="848.1" y1="1283.3" x2="848.1" y2="1288" stroke="#666" stroke-width="1"/>
<rect x="833.8" y="1073.9" width="5" height="208.4" fill="#ff0000"/>
<circle cx="836.3" cy="1073.9" r="4.6" fill="#ff0000"/>
<circle cx="844.4" cy="1282.3" r="4.6" fill="#0000cc"/>
<rect x="850.6" y="1261.46" width="5" height="20.84" fill="#808080"/>
<circle cx="853.1" cy="1261.46" r="4.6" fill="#808080"/>
<circle cx="860.1" cy="1282.3" r="4.6" fill="#000"/>
<text transform="translate(853.9,1300.5) rotate(-45)" font-size="12.6" text-anchor="end" fill="#1a1a1a">DPF2</text>
<circle cx="512.4" cy="1010.8" r="4.6" fill="#ff0000"/>
<circle cx="512.4" cy="1028.8" r="4.6" fill="#808080"/>
<circle cx="683" cy="1011.1" r="4.6" fill="#0000cc"/>
<circle cx="683" cy="1029" r="4.6" fill="#000"/>
<text x="524.4" y="1015.4" font-size="13.9" text-anchor="start" fill="#1a1a1a" textLength="135.4" lengthAdjust="spacingAndGlyphs">Black cohort (<tspan font-style="italic">n</tspan> = 100)</text>
<text x="524.4" y="1033.2" font-size="13.9" text-anchor="start" fill="#1a1a1a" textLength="96" lengthAdjust="spacingAndGlyphs">MDS MSK 2020</text>
<text x="524.4" y="1050.3" font-size="13.9" text-anchor="start" fill="#1a1a1a" textLength="61.5" lengthAdjust="spacingAndGlyphs">(<tspan font-style="italic">n</tspan> = 4,321)</text>
<text x="694.5" y="1015.4" font-size="13.9" text-anchor="start" fill="#1a1a1a" textLength="95.7" lengthAdjust="spacingAndGlyphs">TCGA (<tspan font-style="italic">n</tspan> = 200)</text>
<text x="694.5" y="1033.2" font-size="13.9" text-anchor="start" fill="#1a1a1a" textLength="163" lengthAdjust="spacingAndGlyphs">MDS NEJM evidence 2022</text>
<text x="694.5" y="1050.3" font-size="13.9" text-anchor="start" fill="#1a1a1a" textLength="65.4" lengthAdjust="spacingAndGlyphs">(<tspan font-style="italic">n</tspan> = 3,323)</text>
<rect x="0" y="0" width="869" height="2" fill="#000"/>
<rect x="0" y="1338" width="869" height="2" fill="#000"/>
<rect x="0" y="0" width="2" height="1340" fill="#000"/>
<rect x="867" y="0" width="2" height="1340" fill="#000"/>
</svg></body></html>
